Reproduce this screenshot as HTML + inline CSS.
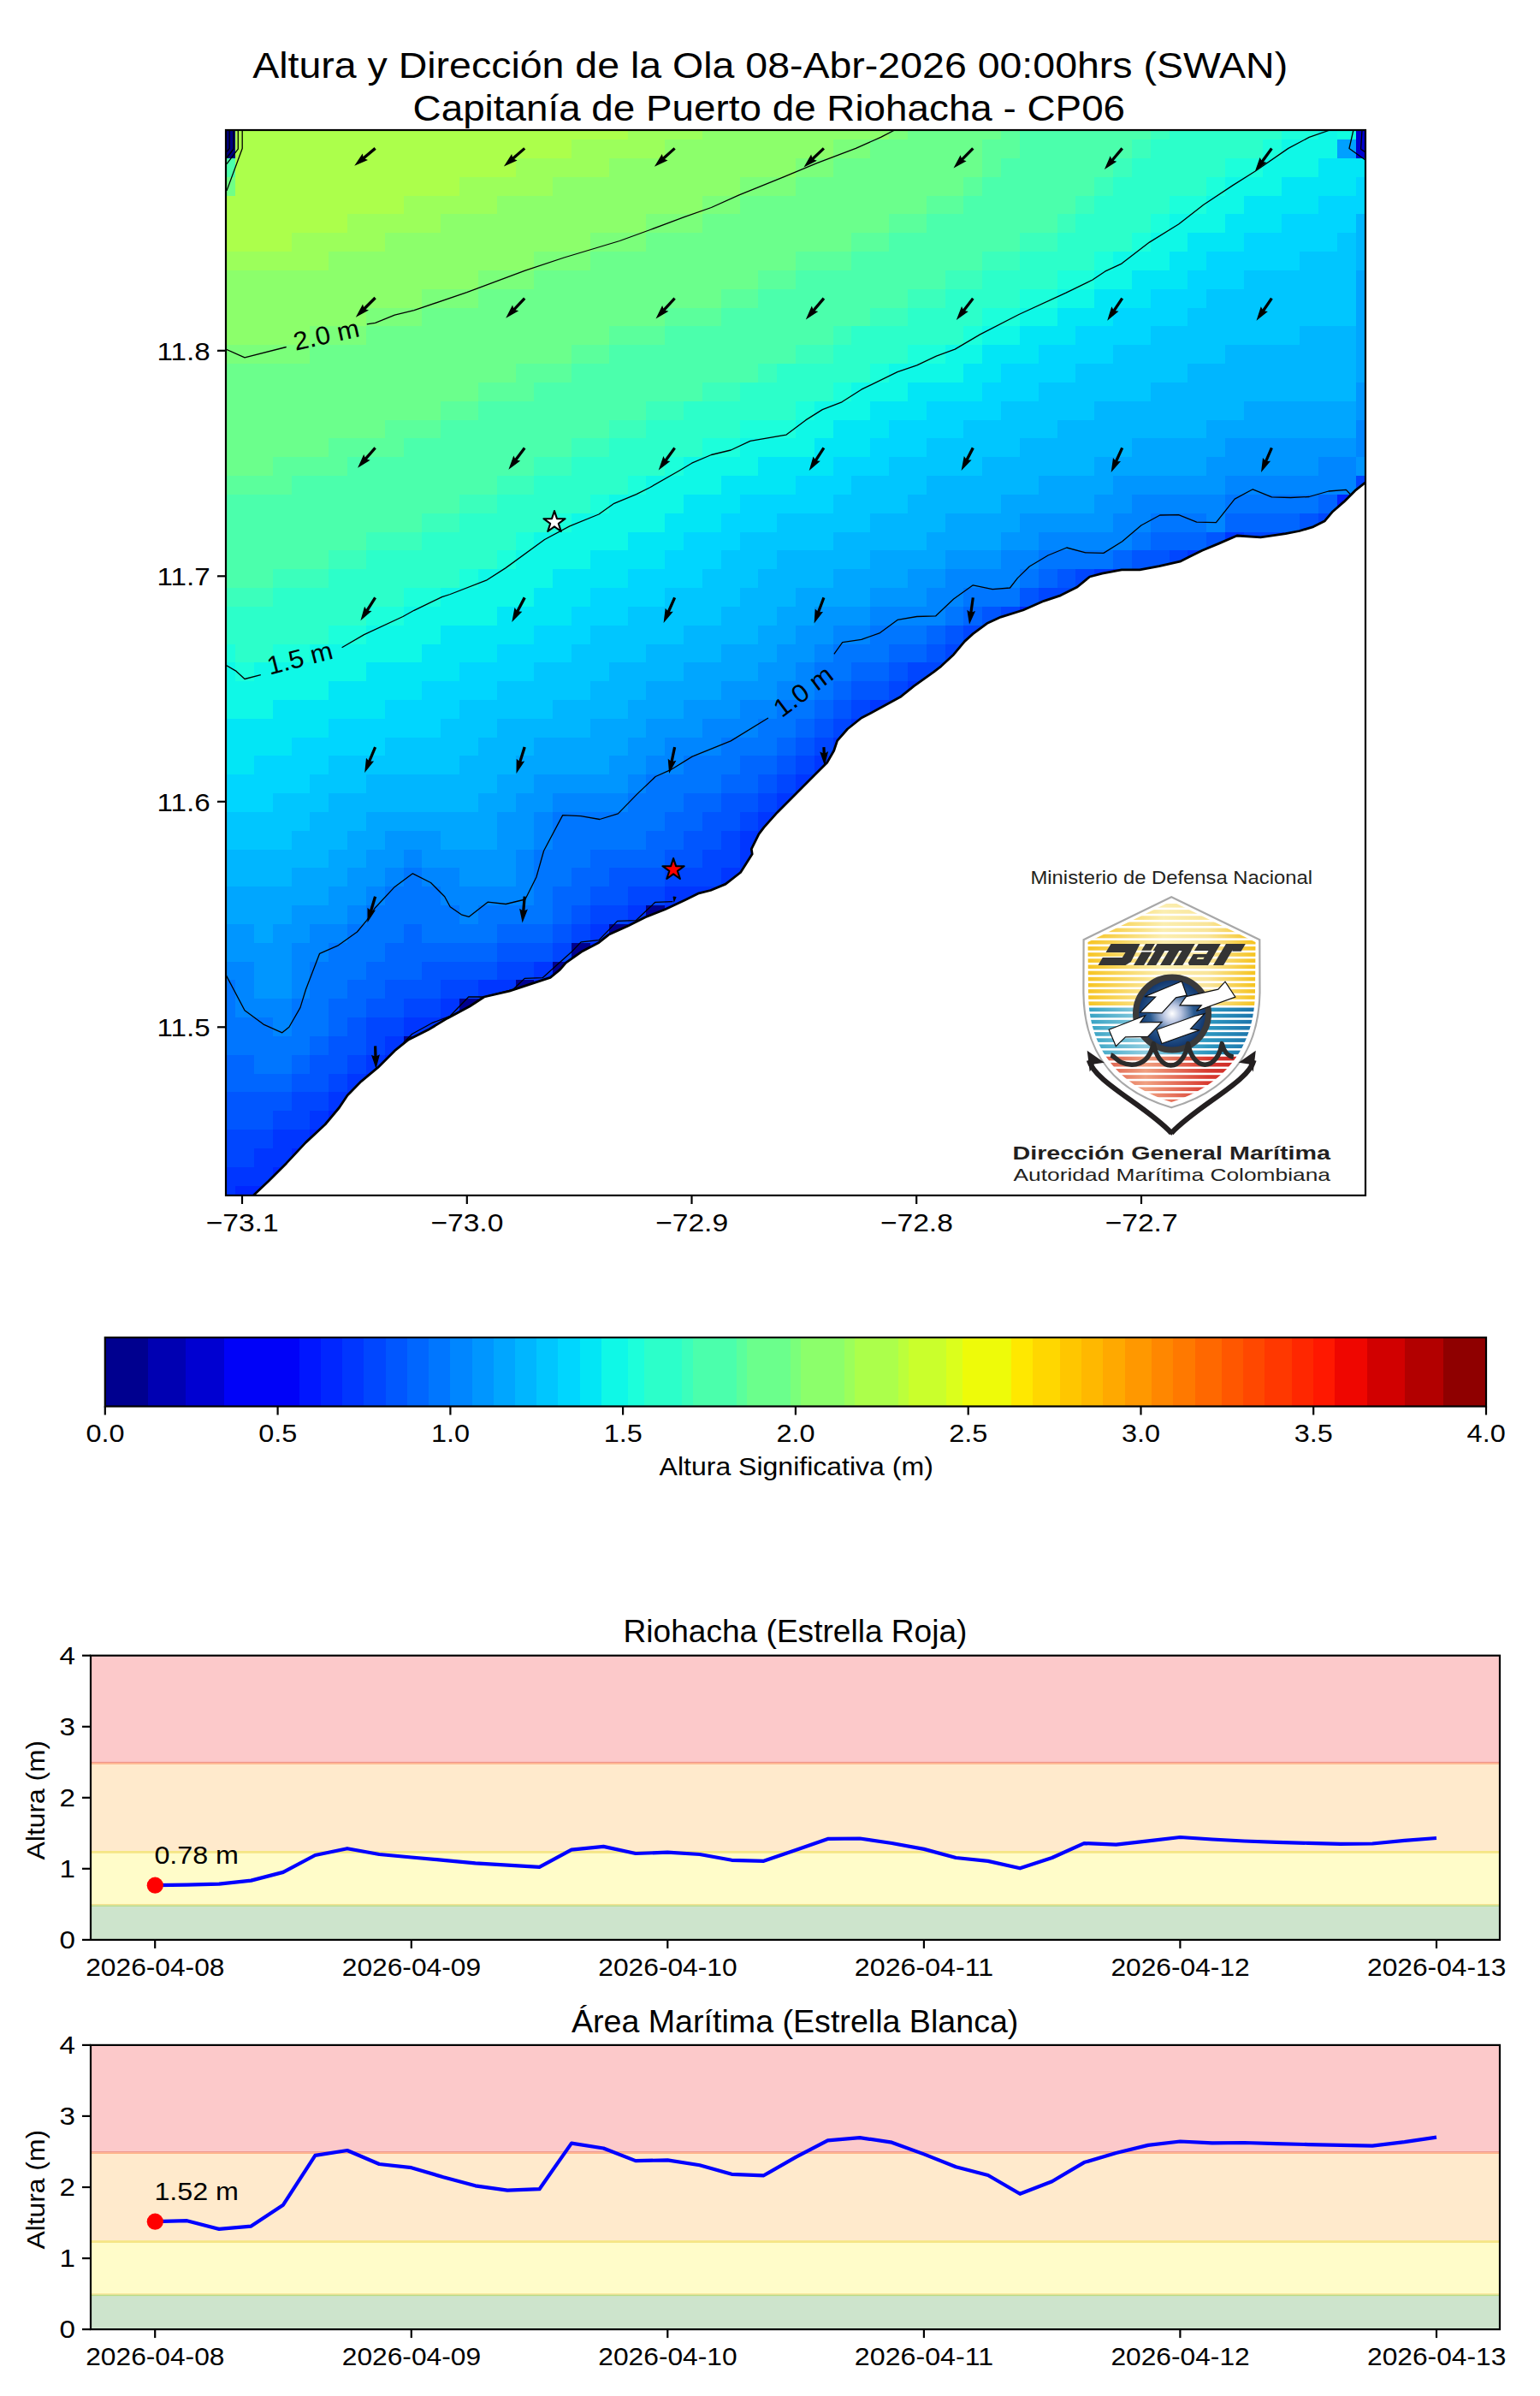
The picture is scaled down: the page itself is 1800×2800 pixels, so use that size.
<!DOCTYPE html><html><head><meta charset="utf-8"><style>html,body{margin:0;padding:0;background:#fff;}svg{display:block}</style></head><body>
<svg width="1800" height="2800" viewBox="0 0 1800 2800" style="font-family:'Liberation Sans',sans-serif">
<rect width="1800" height="2800" fill="#fff"/>
<text x="295.20" y="91.10" font-size="42.74" textLength="1210.00" lengthAdjust="spacingAndGlyphs" font-weight="normal" fill="#000" >Altura y Dirección de la Ola 08-Abr-2026 00:00hrs (SWAN)</text>
<text x="482.60" y="140.60" font-size="42.74" textLength="832.50" lengthAdjust="spacingAndGlyphs" font-weight="normal" fill="#000" >Capitanía de Puerto de Riohacha - CP06</text>
<defs><clipPath id="mapclip"><rect x="264" y="152" width="1332" height="1245"/></clipPath></defs>
<g clip-path="url(#mapclip)" shape-rendering="crispEdges">
<rect x="253.27" y="141.27" width="22.13" height="22.13" fill="#000080"/>
<rect x="275.10" y="141.27" width="458.73" height="22.13" fill="#acff4b"/>
<rect x="733.53" y="141.27" width="87.62" height="22.13" fill="#9cff5b"/>
<rect x="820.85" y="141.27" width="218.60" height="22.13" fill="#8cff6b"/>
<rect x="1039.15" y="141.27" width="22.13" height="22.13" fill="#7bff7b"/>
<rect x="1060.98" y="141.27" width="109.45" height="22.13" fill="#6bff8c"/>
<rect x="1170.13" y="141.27" width="22.13" height="22.13" fill="#5bff9c"/>
<rect x="1191.96" y="141.27" width="153.11" height="22.13" fill="#4bffac"/>
<rect x="1344.77" y="141.27" width="22.13" height="22.13" fill="#3bffbc"/>
<rect x="1366.60" y="141.27" width="131.28" height="22.13" fill="#2cffca"/>
<rect x="1497.58" y="141.27" width="43.96" height="22.13" fill="#1cffdb"/>
<rect x="1541.24" y="141.27" width="22.13" height="22.13" fill="#0ff8e7"/>
<rect x="1563.07" y="141.27" width="22.13" height="22.13" fill="#10ffe0"/>
<rect x="1584.90" y="141.27" width="22.13" height="22.13" fill="#0000d0"/>
<rect x="253.27" y="163.10" width="22.13" height="22.13" fill="#000080"/>
<rect x="275.10" y="163.10" width="393.24" height="22.13" fill="#acff4b"/>
<rect x="668.04" y="163.10" width="109.45" height="22.13" fill="#9cff5b"/>
<rect x="777.19" y="163.10" width="196.77" height="22.13" fill="#8cff6b"/>
<rect x="973.66" y="163.10" width="43.96" height="22.13" fill="#7bff7b"/>
<rect x="1017.32" y="163.10" width="131.28" height="22.13" fill="#6bff8c"/>
<rect x="1148.30" y="163.10" width="43.96" height="22.13" fill="#5bff9c"/>
<rect x="1191.96" y="163.10" width="131.28" height="22.13" fill="#4bffac"/>
<rect x="1322.94" y="163.10" width="22.13" height="22.13" fill="#3bffbc"/>
<rect x="1344.77" y="163.10" width="131.28" height="22.13" fill="#2cffca"/>
<rect x="1475.75" y="163.10" width="22.13" height="22.13" fill="#1cffdb"/>
<rect x="1497.58" y="163.10" width="65.79" height="22.13" fill="#0ff8e7"/>
<rect x="1563.07" y="163.10" width="22.13" height="22.13" fill="#00a0ff"/>
<rect x="1584.90" y="163.10" width="22.13" height="22.13" fill="#0000d0"/>
<rect x="253.27" y="184.93" width="22.13" height="22.13" fill="#4dffaa"/>
<rect x="275.10" y="184.93" width="327.75" height="22.13" fill="#acff4b"/>
<rect x="602.55" y="184.93" width="109.45" height="22.13" fill="#9cff5b"/>
<rect x="711.70" y="184.93" width="218.60" height="22.13" fill="#8cff6b"/>
<rect x="930.00" y="184.93" width="43.96" height="22.13" fill="#7bff7b"/>
<rect x="973.66" y="184.93" width="174.94" height="22.13" fill="#6bff8c"/>
<rect x="1148.30" y="184.93" width="22.13" height="22.13" fill="#5bff9c"/>
<rect x="1170.13" y="184.93" width="131.28" height="22.13" fill="#4bffac"/>
<rect x="1301.11" y="184.93" width="22.13" height="22.13" fill="#3bffbc"/>
<rect x="1322.94" y="184.93" width="109.45" height="22.13" fill="#2cffca"/>
<rect x="1432.09" y="184.93" width="43.96" height="22.13" fill="#1cffdb"/>
<rect x="1475.75" y="184.93" width="65.79" height="22.13" fill="#0ff8e7"/>
<rect x="1541.24" y="184.93" width="65.79" height="22.13" fill="#02e6f6"/>
<rect x="253.27" y="206.76" width="22.13" height="22.13" fill="#70ff86"/>
<rect x="275.10" y="206.76" width="262.26" height="22.13" fill="#acff4b"/>
<rect x="537.06" y="206.76" width="109.45" height="22.13" fill="#9cff5b"/>
<rect x="646.21" y="206.76" width="218.60" height="22.13" fill="#8cff6b"/>
<rect x="864.51" y="206.76" width="65.79" height="22.13" fill="#7bff7b"/>
<rect x="930.00" y="206.76" width="196.77" height="22.13" fill="#6bff8c"/>
<rect x="1126.47" y="206.76" width="22.13" height="22.13" fill="#5bff9c"/>
<rect x="1148.30" y="206.76" width="131.28" height="22.13" fill="#4bffac"/>
<rect x="1279.28" y="206.76" width="22.13" height="22.13" fill="#3bffbc"/>
<rect x="1301.11" y="206.76" width="109.45" height="22.13" fill="#2cffca"/>
<rect x="1410.26" y="206.76" width="22.13" height="22.13" fill="#1cffdb"/>
<rect x="1432.09" y="206.76" width="65.79" height="22.13" fill="#0ff8e7"/>
<rect x="1497.58" y="206.76" width="87.62" height="22.13" fill="#02e6f6"/>
<rect x="1584.90" y="206.76" width="22.13" height="22.13" fill="#00d6ff"/>
<rect x="253.27" y="228.59" width="218.60" height="22.13" fill="#acff4b"/>
<rect x="471.57" y="228.59" width="109.45" height="22.13" fill="#9cff5b"/>
<rect x="580.72" y="228.59" width="240.43" height="22.13" fill="#8cff6b"/>
<rect x="820.85" y="228.59" width="43.96" height="22.13" fill="#7bff7b"/>
<rect x="864.51" y="228.59" width="218.60" height="22.13" fill="#6bff8c"/>
<rect x="1082.81" y="228.59" width="43.96" height="22.13" fill="#5bff9c"/>
<rect x="1126.47" y="228.59" width="131.28" height="22.13" fill="#4bffac"/>
<rect x="1257.45" y="228.59" width="22.13" height="22.13" fill="#3bffbc"/>
<rect x="1279.28" y="228.59" width="87.62" height="22.13" fill="#2cffca"/>
<rect x="1366.60" y="228.59" width="43.96" height="22.13" fill="#1cffdb"/>
<rect x="1410.26" y="228.59" width="43.96" height="22.13" fill="#0ff8e7"/>
<rect x="1453.92" y="228.59" width="87.62" height="22.13" fill="#02e6f6"/>
<rect x="1541.24" y="228.59" width="65.79" height="22.13" fill="#00d6ff"/>
<rect x="253.27" y="250.42" width="153.11" height="22.13" fill="#acff4b"/>
<rect x="406.08" y="250.42" width="109.45" height="22.13" fill="#9cff5b"/>
<rect x="515.23" y="250.42" width="240.43" height="22.13" fill="#8cff6b"/>
<rect x="755.36" y="250.42" width="65.79" height="22.13" fill="#7bff7b"/>
<rect x="820.85" y="250.42" width="218.60" height="22.13" fill="#6bff8c"/>
<rect x="1039.15" y="250.42" width="43.96" height="22.13" fill="#5bff9c"/>
<rect x="1082.81" y="250.42" width="153.11" height="22.13" fill="#4bffac"/>
<rect x="1235.62" y="250.42" width="22.13" height="22.13" fill="#3bffbc"/>
<rect x="1257.45" y="250.42" width="87.62" height="22.13" fill="#2cffca"/>
<rect x="1344.77" y="250.42" width="22.13" height="22.13" fill="#1cffdb"/>
<rect x="1366.60" y="250.42" width="65.79" height="22.13" fill="#0ff8e7"/>
<rect x="1432.09" y="250.42" width="65.79" height="22.13" fill="#02e6f6"/>
<rect x="1497.58" y="250.42" width="87.62" height="22.13" fill="#00d6ff"/>
<rect x="1584.90" y="250.42" width="22.13" height="22.13" fill="#00b6ff"/>
<rect x="253.27" y="272.25" width="87.62" height="22.13" fill="#acff4b"/>
<rect x="340.59" y="272.25" width="109.45" height="22.13" fill="#9cff5b"/>
<rect x="449.74" y="272.25" width="240.43" height="22.13" fill="#8cff6b"/>
<rect x="689.87" y="272.25" width="65.79" height="22.13" fill="#7bff7b"/>
<rect x="755.36" y="272.25" width="240.43" height="22.13" fill="#6bff8c"/>
<rect x="995.49" y="272.25" width="43.96" height="22.13" fill="#5bff9c"/>
<rect x="1039.15" y="272.25" width="153.11" height="22.13" fill="#4bffac"/>
<rect x="1191.96" y="272.25" width="43.96" height="22.13" fill="#3bffbc"/>
<rect x="1235.62" y="272.25" width="87.62" height="22.13" fill="#2cffca"/>
<rect x="1322.94" y="272.25" width="22.13" height="22.13" fill="#1cffdb"/>
<rect x="1344.77" y="272.25" width="43.96" height="22.13" fill="#0ff8e7"/>
<rect x="1388.43" y="272.25" width="65.79" height="22.13" fill="#02e6f6"/>
<rect x="1453.92" y="272.25" width="109.45" height="22.13" fill="#00d6ff"/>
<rect x="1563.07" y="272.25" width="22.13" height="22.13" fill="#00c6ff"/>
<rect x="1584.90" y="272.25" width="22.13" height="22.13" fill="#00b6ff"/>
<rect x="253.27" y="294.08" width="131.28" height="22.13" fill="#9cff5b"/>
<rect x="384.25" y="294.08" width="240.43" height="22.13" fill="#8cff6b"/>
<rect x="624.38" y="294.08" width="65.79" height="22.13" fill="#7bff7b"/>
<rect x="689.87" y="294.08" width="240.43" height="22.13" fill="#6bff8c"/>
<rect x="930.00" y="294.08" width="65.79" height="22.13" fill="#5bff9c"/>
<rect x="995.49" y="294.08" width="153.11" height="22.13" fill="#4bffac"/>
<rect x="1148.30" y="294.08" width="43.96" height="22.13" fill="#3bffbc"/>
<rect x="1191.96" y="294.08" width="87.62" height="22.13" fill="#2cffca"/>
<rect x="1279.28" y="294.08" width="22.13" height="22.13" fill="#1cffdb"/>
<rect x="1301.11" y="294.08" width="65.79" height="22.13" fill="#0ff8e7"/>
<rect x="1366.60" y="294.08" width="43.96" height="22.13" fill="#02e6f6"/>
<rect x="1410.26" y="294.08" width="109.45" height="22.13" fill="#00d6ff"/>
<rect x="1519.41" y="294.08" width="65.79" height="22.13" fill="#00c6ff"/>
<rect x="1584.90" y="294.08" width="22.13" height="22.13" fill="#00b6ff"/>
<rect x="253.27" y="315.91" width="305.92" height="22.13" fill="#8cff6b"/>
<rect x="558.89" y="315.91" width="65.79" height="22.13" fill="#7bff7b"/>
<rect x="624.38" y="315.91" width="262.26" height="22.13" fill="#6bff8c"/>
<rect x="886.34" y="315.91" width="43.96" height="22.13" fill="#5bff9c"/>
<rect x="930.00" y="315.91" width="174.94" height="22.13" fill="#4bffac"/>
<rect x="1104.64" y="315.91" width="43.96" height="22.13" fill="#3bffbc"/>
<rect x="1148.30" y="315.91" width="87.62" height="22.13" fill="#2cffca"/>
<rect x="1235.62" y="315.91" width="43.96" height="22.13" fill="#1cffdb"/>
<rect x="1279.28" y="315.91" width="43.96" height="22.13" fill="#0ff8e7"/>
<rect x="1322.94" y="315.91" width="65.79" height="22.13" fill="#02e6f6"/>
<rect x="1388.43" y="315.91" width="65.79" height="22.13" fill="#00d6ff"/>
<rect x="1453.92" y="315.91" width="131.28" height="22.13" fill="#00c6ff"/>
<rect x="1584.90" y="315.91" width="22.13" height="22.13" fill="#00a6ff"/>
<rect x="253.27" y="337.74" width="240.43" height="22.13" fill="#8cff6b"/>
<rect x="493.40" y="337.74" width="65.79" height="22.13" fill="#7bff7b"/>
<rect x="558.89" y="337.74" width="284.09" height="22.13" fill="#6bff8c"/>
<rect x="842.68" y="337.74" width="43.96" height="22.13" fill="#5bff9c"/>
<rect x="886.34" y="337.74" width="174.94" height="22.13" fill="#4bffac"/>
<rect x="1060.98" y="337.74" width="43.96" height="22.13" fill="#3bffbc"/>
<rect x="1104.64" y="337.74" width="87.62" height="22.13" fill="#2cffca"/>
<rect x="1191.96" y="337.74" width="43.96" height="22.13" fill="#1cffdb"/>
<rect x="1235.62" y="337.74" width="43.96" height="22.13" fill="#0ff8e7"/>
<rect x="1279.28" y="337.74" width="65.79" height="22.13" fill="#02e6f6"/>
<rect x="1344.77" y="337.74" width="65.79" height="22.13" fill="#00d6ff"/>
<rect x="1410.26" y="337.74" width="174.94" height="22.13" fill="#00c6ff"/>
<rect x="1584.90" y="337.74" width="22.13" height="22.13" fill="#00a6ff"/>
<rect x="253.27" y="359.57" width="174.94" height="22.13" fill="#8cff6b"/>
<rect x="427.91" y="359.57" width="65.79" height="22.13" fill="#7bff7b"/>
<rect x="493.40" y="359.57" width="284.09" height="22.13" fill="#6bff8c"/>
<rect x="777.19" y="359.57" width="65.79" height="22.13" fill="#5bff9c"/>
<rect x="842.68" y="359.57" width="174.94" height="22.13" fill="#4bffac"/>
<rect x="1017.32" y="359.57" width="43.96" height="22.13" fill="#3bffbc"/>
<rect x="1060.98" y="359.57" width="87.62" height="22.13" fill="#2cffca"/>
<rect x="1148.30" y="359.57" width="43.96" height="22.13" fill="#1cffdb"/>
<rect x="1191.96" y="359.57" width="43.96" height="22.13" fill="#0ff8e7"/>
<rect x="1235.62" y="359.57" width="65.79" height="22.13" fill="#02e6f6"/>
<rect x="1301.11" y="359.57" width="87.62" height="22.13" fill="#00d6ff"/>
<rect x="1388.43" y="359.57" width="196.77" height="22.13" fill="#00c6ff"/>
<rect x="1584.90" y="359.57" width="22.13" height="22.13" fill="#00a6ff"/>
<rect x="253.27" y="381.40" width="109.45" height="22.13" fill="#8cff6b"/>
<rect x="362.42" y="381.40" width="65.79" height="22.13" fill="#7bff7b"/>
<rect x="427.91" y="381.40" width="284.09" height="22.13" fill="#6bff8c"/>
<rect x="711.70" y="381.40" width="65.79" height="22.13" fill="#5bff9c"/>
<rect x="777.19" y="381.40" width="196.77" height="22.13" fill="#4bffac"/>
<rect x="973.66" y="381.40" width="22.13" height="22.13" fill="#3bffbc"/>
<rect x="995.49" y="381.40" width="131.28" height="22.13" fill="#2cffca"/>
<rect x="1126.47" y="381.40" width="22.13" height="22.13" fill="#1cffdb"/>
<rect x="1148.30" y="381.40" width="43.96" height="22.13" fill="#0ff8e7"/>
<rect x="1191.96" y="381.40" width="65.79" height="22.13" fill="#02e6f6"/>
<rect x="1257.45" y="381.40" width="87.62" height="22.13" fill="#00d6ff"/>
<rect x="1344.77" y="381.40" width="174.94" height="22.13" fill="#00c6ff"/>
<rect x="1519.41" y="381.40" width="65.79" height="22.13" fill="#00b6ff"/>
<rect x="1584.90" y="381.40" width="22.13" height="22.13" fill="#00a6ff"/>
<rect x="253.27" y="403.23" width="109.45" height="22.13" fill="#7bff7b"/>
<rect x="362.42" y="403.23" width="305.92" height="22.13" fill="#6bff8c"/>
<rect x="668.04" y="403.23" width="43.96" height="22.13" fill="#5bff9c"/>
<rect x="711.70" y="403.23" width="218.60" height="22.13" fill="#4bffac"/>
<rect x="930.00" y="403.23" width="43.96" height="22.13" fill="#3bffbc"/>
<rect x="973.66" y="403.23" width="87.62" height="22.13" fill="#2cffca"/>
<rect x="1060.98" y="403.23" width="43.96" height="22.13" fill="#1cffdb"/>
<rect x="1104.64" y="403.23" width="43.96" height="22.13" fill="#0ff8e7"/>
<rect x="1148.30" y="403.23" width="65.79" height="22.13" fill="#02e6f6"/>
<rect x="1213.79" y="403.23" width="87.62" height="22.13" fill="#00d6ff"/>
<rect x="1301.11" y="403.23" width="131.28" height="22.13" fill="#00c6ff"/>
<rect x="1432.09" y="403.23" width="153.11" height="22.13" fill="#00b6ff"/>
<rect x="1584.90" y="403.23" width="22.13" height="22.13" fill="#00a6ff"/>
<rect x="253.27" y="425.06" width="349.58" height="22.13" fill="#6bff8c"/>
<rect x="602.55" y="425.06" width="65.79" height="22.13" fill="#5bff9c"/>
<rect x="668.04" y="425.06" width="218.60" height="22.13" fill="#4bffac"/>
<rect x="886.34" y="425.06" width="22.13" height="22.13" fill="#3bffbc"/>
<rect x="908.17" y="425.06" width="109.45" height="22.13" fill="#2cffca"/>
<rect x="1017.32" y="425.06" width="22.13" height="22.13" fill="#1cffdb"/>
<rect x="1039.15" y="425.06" width="87.62" height="22.13" fill="#0ff8e7"/>
<rect x="1126.47" y="425.06" width="43.96" height="22.13" fill="#02e6f6"/>
<rect x="1170.13" y="425.06" width="87.62" height="22.13" fill="#00d6ff"/>
<rect x="1257.45" y="425.06" width="131.28" height="22.13" fill="#00c6ff"/>
<rect x="1388.43" y="425.06" width="196.77" height="22.13" fill="#00b6ff"/>
<rect x="1584.90" y="425.06" width="22.13" height="22.13" fill="#00a6ff"/>
<rect x="253.27" y="446.89" width="305.92" height="22.13" fill="#6bff8c"/>
<rect x="558.89" y="446.89" width="65.79" height="22.13" fill="#5bff9c"/>
<rect x="624.38" y="446.89" width="196.77" height="22.13" fill="#4bffac"/>
<rect x="820.85" y="446.89" width="43.96" height="22.13" fill="#3bffbc"/>
<rect x="864.51" y="446.89" width="109.45" height="22.13" fill="#2cffca"/>
<rect x="973.66" y="446.89" width="22.13" height="22.13" fill="#1cffdb"/>
<rect x="995.49" y="446.89" width="65.79" height="22.13" fill="#0ff8e7"/>
<rect x="1060.98" y="446.89" width="87.62" height="22.13" fill="#02e6f6"/>
<rect x="1148.30" y="446.89" width="65.79" height="22.13" fill="#00d6ff"/>
<rect x="1213.79" y="446.89" width="131.28" height="22.13" fill="#00c6ff"/>
<rect x="1344.77" y="446.89" width="240.43" height="22.13" fill="#00b6ff"/>
<rect x="1584.90" y="446.89" width="22.13" height="22.13" fill="#0096ff"/>
<rect x="253.27" y="468.72" width="262.26" height="22.13" fill="#6bff8c"/>
<rect x="515.23" y="468.72" width="43.96" height="22.13" fill="#5bff9c"/>
<rect x="558.89" y="468.72" width="196.77" height="22.13" fill="#4bffac"/>
<rect x="755.36" y="468.72" width="43.96" height="22.13" fill="#3bffbc"/>
<rect x="799.02" y="468.72" width="131.28" height="22.13" fill="#2cffca"/>
<rect x="930.00" y="468.72" width="22.13" height="22.13" fill="#1cffdb"/>
<rect x="951.83" y="468.72" width="65.79" height="22.13" fill="#0ff8e7"/>
<rect x="1017.32" y="468.72" width="65.79" height="22.13" fill="#02e6f6"/>
<rect x="1082.81" y="468.72" width="87.62" height="22.13" fill="#00d6ff"/>
<rect x="1170.13" y="468.72" width="109.45" height="22.13" fill="#00c6ff"/>
<rect x="1279.28" y="468.72" width="174.94" height="22.13" fill="#00b6ff"/>
<rect x="1453.92" y="468.72" width="131.28" height="22.13" fill="#00a6ff"/>
<rect x="1584.90" y="468.72" width="22.13" height="22.13" fill="#0096ff"/>
<rect x="253.27" y="490.55" width="196.77" height="22.13" fill="#6bff8c"/>
<rect x="449.74" y="490.55" width="65.79" height="22.13" fill="#5bff9c"/>
<rect x="515.23" y="490.55" width="196.77" height="22.13" fill="#4bffac"/>
<rect x="711.70" y="490.55" width="43.96" height="22.13" fill="#3bffbc"/>
<rect x="755.36" y="490.55" width="109.45" height="22.13" fill="#2cffca"/>
<rect x="864.51" y="490.55" width="65.79" height="22.13" fill="#1cffdb"/>
<rect x="930.00" y="490.55" width="43.96" height="22.13" fill="#0ff8e7"/>
<rect x="973.66" y="490.55" width="65.79" height="22.13" fill="#02e6f6"/>
<rect x="1039.15" y="490.55" width="87.62" height="22.13" fill="#00d6ff"/>
<rect x="1126.47" y="490.55" width="109.45" height="22.13" fill="#00c6ff"/>
<rect x="1235.62" y="490.55" width="174.94" height="22.13" fill="#00b6ff"/>
<rect x="1410.26" y="490.55" width="174.94" height="22.13" fill="#00a6ff"/>
<rect x="1584.90" y="490.55" width="22.13" height="22.13" fill="#0086ff"/>
<rect x="253.27" y="512.38" width="131.28" height="22.13" fill="#6bff8c"/>
<rect x="384.25" y="512.38" width="87.62" height="22.13" fill="#5bff9c"/>
<rect x="471.57" y="512.38" width="196.77" height="22.13" fill="#4bffac"/>
<rect x="668.04" y="512.38" width="43.96" height="22.13" fill="#3bffbc"/>
<rect x="711.70" y="512.38" width="109.45" height="22.13" fill="#2cffca"/>
<rect x="820.85" y="512.38" width="43.96" height="22.13" fill="#1cffdb"/>
<rect x="864.51" y="512.38" width="87.62" height="22.13" fill="#0ff8e7"/>
<rect x="951.83" y="512.38" width="65.79" height="22.13" fill="#02e6f6"/>
<rect x="1017.32" y="512.38" width="65.79" height="22.13" fill="#00d6ff"/>
<rect x="1082.81" y="512.38" width="109.45" height="22.13" fill="#00c6ff"/>
<rect x="1191.96" y="512.38" width="131.28" height="22.13" fill="#00b6ff"/>
<rect x="1322.94" y="512.38" width="109.45" height="22.13" fill="#00a6ff"/>
<rect x="1432.09" y="512.38" width="153.11" height="22.13" fill="#0096ff"/>
<rect x="1584.90" y="512.38" width="22.13" height="22.13" fill="#0086ff"/>
<rect x="253.27" y="534.21" width="65.79" height="22.13" fill="#6bff8c"/>
<rect x="318.76" y="534.21" width="87.62" height="22.13" fill="#5bff9c"/>
<rect x="406.08" y="534.21" width="218.60" height="22.13" fill="#4bffac"/>
<rect x="624.38" y="534.21" width="43.96" height="22.13" fill="#3bffbc"/>
<rect x="668.04" y="534.21" width="109.45" height="22.13" fill="#2cffca"/>
<rect x="777.19" y="534.21" width="22.13" height="22.13" fill="#1cffdb"/>
<rect x="799.02" y="534.21" width="87.62" height="22.13" fill="#0ff8e7"/>
<rect x="886.34" y="534.21" width="87.62" height="22.13" fill="#02e6f6"/>
<rect x="973.66" y="534.21" width="65.79" height="22.13" fill="#00d6ff"/>
<rect x="1039.15" y="534.21" width="109.45" height="22.13" fill="#00c6ff"/>
<rect x="1148.30" y="534.21" width="131.28" height="22.13" fill="#00b6ff"/>
<rect x="1279.28" y="534.21" width="131.28" height="22.13" fill="#00a6ff"/>
<rect x="1410.26" y="534.21" width="131.28" height="22.13" fill="#0096ff"/>
<rect x="1541.24" y="534.21" width="43.96" height="22.13" fill="#0086ff"/>
<rect x="1584.90" y="534.21" width="22.13" height="22.13" fill="#0096ff"/>
<rect x="253.27" y="556.04" width="87.62" height="22.13" fill="#5bff9c"/>
<rect x="340.59" y="556.04" width="240.43" height="22.13" fill="#4bffac"/>
<rect x="580.72" y="556.04" width="43.96" height="22.13" fill="#3bffbc"/>
<rect x="624.38" y="556.04" width="109.45" height="22.13" fill="#2cffca"/>
<rect x="733.53" y="556.04" width="22.13" height="22.13" fill="#1cffdb"/>
<rect x="755.36" y="556.04" width="87.62" height="22.13" fill="#0ff8e7"/>
<rect x="842.68" y="556.04" width="87.62" height="22.13" fill="#02e6f6"/>
<rect x="930.00" y="556.04" width="65.79" height="22.13" fill="#00d6ff"/>
<rect x="995.49" y="556.04" width="87.62" height="22.13" fill="#00c6ff"/>
<rect x="1082.81" y="556.04" width="131.28" height="22.13" fill="#00b6ff"/>
<rect x="1213.79" y="556.04" width="87.62" height="22.13" fill="#00a6ff"/>
<rect x="1301.11" y="556.04" width="131.28" height="22.13" fill="#0096ff"/>
<rect x="1432.09" y="556.04" width="153.11" height="22.13" fill="#0086ff"/>
<rect x="1584.90" y="556.04" width="22.13" height="22.13" fill="#0046ff"/>
<rect x="253.27" y="577.87" width="284.09" height="22.13" fill="#4bffac"/>
<rect x="537.06" y="577.87" width="43.96" height="22.13" fill="#3bffbc"/>
<rect x="580.72" y="577.87" width="109.45" height="22.13" fill="#2cffca"/>
<rect x="689.87" y="577.87" width="22.13" height="22.13" fill="#1cffdb"/>
<rect x="711.70" y="577.87" width="87.62" height="22.13" fill="#0ff8e7"/>
<rect x="799.02" y="577.87" width="65.79" height="22.13" fill="#02e6f6"/>
<rect x="864.51" y="577.87" width="109.45" height="22.13" fill="#00d6ff"/>
<rect x="973.66" y="577.87" width="87.62" height="22.13" fill="#00c6ff"/>
<rect x="1060.98" y="577.87" width="109.45" height="22.13" fill="#00b6ff"/>
<rect x="1170.13" y="577.87" width="109.45" height="22.13" fill="#00a6ff"/>
<rect x="1279.28" y="577.87" width="43.96" height="22.13" fill="#0096ff"/>
<rect x="1322.94" y="577.87" width="109.45" height="22.13" fill="#0086ff"/>
<rect x="1432.09" y="577.87" width="109.45" height="22.13" fill="#0076ff"/>
<rect x="1541.24" y="577.87" width="22.13" height="22.13" fill="#0066ff"/>
<rect x="1563.07" y="577.87" width="43.96" height="22.13" fill="#0026ff"/>
<rect x="253.27" y="599.70" width="240.43" height="22.13" fill="#4bffac"/>
<rect x="493.40" y="599.70" width="43.96" height="22.13" fill="#3bffbc"/>
<rect x="537.06" y="599.70" width="109.45" height="22.13" fill="#2cffca"/>
<rect x="646.21" y="599.70" width="22.13" height="22.13" fill="#1cffdb"/>
<rect x="668.04" y="599.70" width="109.45" height="22.13" fill="#0ff8e7"/>
<rect x="777.19" y="599.70" width="65.79" height="22.13" fill="#02e6f6"/>
<rect x="842.68" y="599.70" width="65.79" height="22.13" fill="#00d6ff"/>
<rect x="908.17" y="599.70" width="109.45" height="22.13" fill="#00c6ff"/>
<rect x="1017.32" y="599.70" width="87.62" height="22.13" fill="#00b6ff"/>
<rect x="1104.64" y="599.70" width="87.62" height="22.13" fill="#00a6ff"/>
<rect x="1191.96" y="599.70" width="109.45" height="22.13" fill="#0096ff"/>
<rect x="1301.11" y="599.70" width="43.96" height="22.13" fill="#0086ff"/>
<rect x="1344.77" y="599.70" width="65.79" height="22.13" fill="#0076ff"/>
<rect x="1410.26" y="599.70" width="22.13" height="22.13" fill="#0086ff"/>
<rect x="1432.09" y="599.70" width="87.62" height="22.13" fill="#0066ff"/>
<rect x="1519.41" y="599.70" width="22.13" height="22.13" fill="#0056ff"/>
<rect x="1541.24" y="599.70" width="22.13" height="22.13" fill="#0046ff"/>
<rect x="1563.07" y="599.70" width="43.96" height="22.13" fill="#0026ff"/>
<rect x="253.27" y="621.53" width="174.94" height="22.13" fill="#4bffac"/>
<rect x="427.91" y="621.53" width="65.79" height="22.13" fill="#3bffbc"/>
<rect x="493.40" y="621.53" width="109.45" height="22.13" fill="#2cffca"/>
<rect x="602.55" y="621.53" width="22.13" height="22.13" fill="#1cffdb"/>
<rect x="624.38" y="621.53" width="109.45" height="22.13" fill="#0ff8e7"/>
<rect x="733.53" y="621.53" width="65.79" height="22.13" fill="#02e6f6"/>
<rect x="799.02" y="621.53" width="65.79" height="22.13" fill="#00d6ff"/>
<rect x="864.51" y="621.53" width="109.45" height="22.13" fill="#00c6ff"/>
<rect x="973.66" y="621.53" width="109.45" height="22.13" fill="#00b6ff"/>
<rect x="1082.81" y="621.53" width="87.62" height="22.13" fill="#00a6ff"/>
<rect x="1170.13" y="621.53" width="43.96" height="22.13" fill="#0096ff"/>
<rect x="1213.79" y="621.53" width="109.45" height="22.13" fill="#0086ff"/>
<rect x="1322.94" y="621.53" width="22.13" height="22.13" fill="#0076ff"/>
<rect x="1344.77" y="621.53" width="65.79" height="22.13" fill="#0066ff"/>
<rect x="1410.26" y="621.53" width="22.13" height="22.13" fill="#0056ff"/>
<rect x="1432.09" y="621.53" width="22.13" height="22.13" fill="#0036ff"/>
<rect x="1453.92" y="621.53" width="43.96" height="22.13" fill="#0046ff"/>
<rect x="1497.58" y="621.53" width="22.13" height="22.13" fill="#0036ff"/>
<rect x="1519.41" y="621.53" width="87.62" height="22.13" fill="#0026ff"/>
<rect x="253.27" y="643.36" width="131.28" height="22.13" fill="#4bffac"/>
<rect x="384.25" y="643.36" width="43.96" height="22.13" fill="#3bffbc"/>
<rect x="427.91" y="643.36" width="153.11" height="22.13" fill="#2cffca"/>
<rect x="580.72" y="643.36" width="22.13" height="22.13" fill="#1cffdb"/>
<rect x="602.55" y="643.36" width="87.62" height="22.13" fill="#0ff8e7"/>
<rect x="689.87" y="643.36" width="87.62" height="22.13" fill="#02e6f6"/>
<rect x="777.19" y="643.36" width="65.79" height="22.13" fill="#00d6ff"/>
<rect x="842.68" y="643.36" width="65.79" height="22.13" fill="#00c6ff"/>
<rect x="908.17" y="643.36" width="109.45" height="22.13" fill="#00b6ff"/>
<rect x="1017.32" y="643.36" width="87.62" height="22.13" fill="#00a6ff"/>
<rect x="1104.64" y="643.36" width="65.79" height="22.13" fill="#0096ff"/>
<rect x="1170.13" y="643.36" width="43.96" height="22.13" fill="#0086ff"/>
<rect x="1213.79" y="643.36" width="87.62" height="22.13" fill="#0076ff"/>
<rect x="1301.11" y="643.36" width="22.13" height="22.13" fill="#0066ff"/>
<rect x="1322.94" y="643.36" width="43.96" height="22.13" fill="#0056ff"/>
<rect x="1366.60" y="643.36" width="22.13" height="22.13" fill="#0046ff"/>
<rect x="1388.43" y="643.36" width="22.13" height="22.13" fill="#0036ff"/>
<rect x="1410.26" y="643.36" width="196.77" height="22.13" fill="#0026ff"/>
<rect x="253.27" y="665.19" width="65.79" height="22.13" fill="#4bffac"/>
<rect x="318.76" y="665.19" width="65.79" height="22.13" fill="#3bffbc"/>
<rect x="384.25" y="665.19" width="153.11" height="22.13" fill="#2cffca"/>
<rect x="537.06" y="665.19" width="22.13" height="22.13" fill="#1cffdb"/>
<rect x="558.89" y="665.19" width="87.62" height="22.13" fill="#0ff8e7"/>
<rect x="646.21" y="665.19" width="87.62" height="22.13" fill="#02e6f6"/>
<rect x="733.53" y="665.19" width="87.62" height="22.13" fill="#00d6ff"/>
<rect x="820.85" y="665.19" width="65.79" height="22.13" fill="#00c6ff"/>
<rect x="886.34" y="665.19" width="87.62" height="22.13" fill="#00b6ff"/>
<rect x="973.66" y="665.19" width="87.62" height="22.13" fill="#00a6ff"/>
<rect x="1060.98" y="665.19" width="43.96" height="22.13" fill="#0096ff"/>
<rect x="1104.64" y="665.19" width="87.62" height="22.13" fill="#0086ff"/>
<rect x="1191.96" y="665.19" width="22.13" height="22.13" fill="#0076ff"/>
<rect x="1213.79" y="665.19" width="22.13" height="22.13" fill="#0066ff"/>
<rect x="1235.62" y="665.19" width="22.13" height="22.13" fill="#0056ff"/>
<rect x="1257.45" y="665.19" width="22.13" height="22.13" fill="#0046ff"/>
<rect x="1279.28" y="665.19" width="22.13" height="22.13" fill="#0036ff"/>
<rect x="1301.11" y="665.19" width="22.13" height="22.13" fill="#0026ff"/>
<rect x="1322.94" y="665.19" width="43.96" height="22.13" fill="#0036ff"/>
<rect x="1366.60" y="665.19" width="240.43" height="22.13" fill="#0026ff"/>
<rect x="253.27" y="687.02" width="65.79" height="22.13" fill="#3bffbc"/>
<rect x="318.76" y="687.02" width="153.11" height="22.13" fill="#2cffca"/>
<rect x="471.57" y="687.02" width="43.96" height="22.13" fill="#1cffdb"/>
<rect x="515.23" y="687.02" width="109.45" height="22.13" fill="#0ff8e7"/>
<rect x="624.38" y="687.02" width="65.79" height="22.13" fill="#02e6f6"/>
<rect x="689.87" y="687.02" width="87.62" height="22.13" fill="#00d6ff"/>
<rect x="777.19" y="687.02" width="87.62" height="22.13" fill="#00c6ff"/>
<rect x="864.51" y="687.02" width="65.79" height="22.13" fill="#00b6ff"/>
<rect x="930.00" y="687.02" width="87.62" height="22.13" fill="#00a6ff"/>
<rect x="1017.32" y="687.02" width="65.79" height="22.13" fill="#0096ff"/>
<rect x="1082.81" y="687.02" width="43.96" height="22.13" fill="#0086ff"/>
<rect x="1126.47" y="687.02" width="65.79" height="22.13" fill="#0076ff"/>
<rect x="1191.96" y="687.02" width="22.13" height="22.13" fill="#0056ff"/>
<rect x="1213.79" y="687.02" width="43.96" height="22.13" fill="#0046ff"/>
<rect x="1257.45" y="687.02" width="349.58" height="22.13" fill="#0026ff"/>
<rect x="253.27" y="708.85" width="174.94" height="22.13" fill="#2cffca"/>
<rect x="427.91" y="708.85" width="43.96" height="22.13" fill="#1cffdb"/>
<rect x="471.57" y="708.85" width="109.45" height="22.13" fill="#0ff8e7"/>
<rect x="580.72" y="708.85" width="87.62" height="22.13" fill="#02e6f6"/>
<rect x="668.04" y="708.85" width="65.79" height="22.13" fill="#00d6ff"/>
<rect x="733.53" y="708.85" width="109.45" height="22.13" fill="#00c6ff"/>
<rect x="842.68" y="708.85" width="65.79" height="22.13" fill="#00b6ff"/>
<rect x="908.17" y="708.85" width="43.96" height="22.13" fill="#00a6ff"/>
<rect x="951.83" y="708.85" width="65.79" height="22.13" fill="#0096ff"/>
<rect x="1017.32" y="708.85" width="87.62" height="22.13" fill="#0086ff"/>
<rect x="1104.64" y="708.85" width="22.13" height="22.13" fill="#0076ff"/>
<rect x="1126.47" y="708.85" width="22.13" height="22.13" fill="#0066ff"/>
<rect x="1148.30" y="708.85" width="22.13" height="22.13" fill="#0056ff"/>
<rect x="1170.13" y="708.85" width="22.13" height="22.13" fill="#0046ff"/>
<rect x="1191.96" y="708.85" width="415.07" height="22.13" fill="#0026ff"/>
<rect x="253.27" y="730.68" width="131.28" height="22.13" fill="#2cffca"/>
<rect x="384.25" y="730.68" width="43.96" height="22.13" fill="#1cffdb"/>
<rect x="427.91" y="730.68" width="87.62" height="22.13" fill="#0ff8e7"/>
<rect x="515.23" y="730.68" width="109.45" height="22.13" fill="#02e6f6"/>
<rect x="624.38" y="730.68" width="65.79" height="22.13" fill="#00d6ff"/>
<rect x="689.87" y="730.68" width="109.45" height="22.13" fill="#00c6ff"/>
<rect x="799.02" y="730.68" width="87.62" height="22.13" fill="#00b6ff"/>
<rect x="886.34" y="730.68" width="43.96" height="22.13" fill="#00a6ff"/>
<rect x="930.00" y="730.68" width="43.96" height="22.13" fill="#0096ff"/>
<rect x="973.66" y="730.68" width="43.96" height="22.13" fill="#0086ff"/>
<rect x="1017.32" y="730.68" width="65.79" height="22.13" fill="#0076ff"/>
<rect x="1082.81" y="730.68" width="22.13" height="22.13" fill="#0066ff"/>
<rect x="1104.64" y="730.68" width="22.13" height="22.13" fill="#0056ff"/>
<rect x="1126.47" y="730.68" width="22.13" height="22.13" fill="#0046ff"/>
<rect x="1148.30" y="730.68" width="22.13" height="22.13" fill="#0026ff"/>
<rect x="1170.13" y="730.68" width="65.79" height="22.13" fill="#0016ff"/>
<rect x="1235.62" y="730.68" width="371.41" height="22.13" fill="#0026ff"/>
<rect x="253.27" y="752.51" width="22.13" height="22.13" fill="#1cffdb"/>
<rect x="275.10" y="752.51" width="43.96" height="22.13" fill="#2cffca"/>
<rect x="318.76" y="752.51" width="43.96" height="22.13" fill="#1cffdb"/>
<rect x="362.42" y="752.51" width="131.28" height="22.13" fill="#0ff8e7"/>
<rect x="493.40" y="752.51" width="87.62" height="22.13" fill="#02e6f6"/>
<rect x="580.72" y="752.51" width="87.62" height="22.13" fill="#00d6ff"/>
<rect x="668.04" y="752.51" width="87.62" height="22.13" fill="#00c6ff"/>
<rect x="755.36" y="752.51" width="87.62" height="22.13" fill="#00b6ff"/>
<rect x="842.68" y="752.51" width="65.79" height="22.13" fill="#00a6ff"/>
<rect x="908.17" y="752.51" width="43.96" height="22.13" fill="#0096ff"/>
<rect x="951.83" y="752.51" width="22.13" height="22.13" fill="#0086ff"/>
<rect x="973.66" y="752.51" width="65.79" height="22.13" fill="#0076ff"/>
<rect x="1039.15" y="752.51" width="43.96" height="22.13" fill="#0066ff"/>
<rect x="1082.81" y="752.51" width="22.13" height="22.13" fill="#0056ff"/>
<rect x="1104.64" y="752.51" width="22.13" height="22.13" fill="#0046ff"/>
<rect x="1126.47" y="752.51" width="22.13" height="22.13" fill="#0026ff"/>
<rect x="1148.30" y="752.51" width="87.62" height="22.13" fill="#0016ff"/>
<rect x="1235.62" y="752.51" width="371.41" height="22.13" fill="#0026ff"/>
<rect x="253.27" y="774.34" width="22.13" height="22.13" fill="#0ff8e7"/>
<rect x="275.10" y="774.34" width="22.13" height="22.13" fill="#1cffdb"/>
<rect x="296.93" y="774.34" width="131.28" height="22.13" fill="#0ff8e7"/>
<rect x="427.91" y="774.34" width="109.45" height="22.13" fill="#02e6f6"/>
<rect x="537.06" y="774.34" width="87.62" height="22.13" fill="#00d6ff"/>
<rect x="624.38" y="774.34" width="87.62" height="22.13" fill="#00c6ff"/>
<rect x="711.70" y="774.34" width="87.62" height="22.13" fill="#00b6ff"/>
<rect x="799.02" y="774.34" width="87.62" height="22.13" fill="#00a6ff"/>
<rect x="886.34" y="774.34" width="43.96" height="22.13" fill="#0096ff"/>
<rect x="930.00" y="774.34" width="22.13" height="22.13" fill="#0086ff"/>
<rect x="951.83" y="774.34" width="43.96" height="22.13" fill="#0076ff"/>
<rect x="995.49" y="774.34" width="43.96" height="22.13" fill="#0066ff"/>
<rect x="1039.15" y="774.34" width="22.13" height="22.13" fill="#0056ff"/>
<rect x="1060.98" y="774.34" width="43.96" height="22.13" fill="#0046ff"/>
<rect x="1104.64" y="774.34" width="22.13" height="22.13" fill="#0026ff"/>
<rect x="1126.47" y="774.34" width="109.45" height="22.13" fill="#0016ff"/>
<rect x="1235.62" y="774.34" width="371.41" height="22.13" fill="#0026ff"/>
<rect x="253.27" y="796.17" width="131.28" height="22.13" fill="#0ff8e7"/>
<rect x="384.25" y="796.17" width="109.45" height="22.13" fill="#02e6f6"/>
<rect x="493.40" y="796.17" width="87.62" height="22.13" fill="#00d6ff"/>
<rect x="580.72" y="796.17" width="109.45" height="22.13" fill="#00c6ff"/>
<rect x="689.87" y="796.17" width="65.79" height="22.13" fill="#00b6ff"/>
<rect x="755.36" y="796.17" width="87.62" height="22.13" fill="#00a6ff"/>
<rect x="842.68" y="796.17" width="65.79" height="22.13" fill="#0096ff"/>
<rect x="908.17" y="796.17" width="43.96" height="22.13" fill="#0086ff"/>
<rect x="951.83" y="796.17" width="22.13" height="22.13" fill="#0076ff"/>
<rect x="973.66" y="796.17" width="22.13" height="22.13" fill="#0066ff"/>
<rect x="995.49" y="796.17" width="43.96" height="22.13" fill="#0056ff"/>
<rect x="1039.15" y="796.17" width="22.13" height="22.13" fill="#0046ff"/>
<rect x="1060.98" y="796.17" width="22.13" height="22.13" fill="#0036ff"/>
<rect x="1082.81" y="796.17" width="22.13" height="22.13" fill="#0026ff"/>
<rect x="1104.64" y="796.17" width="131.28" height="22.13" fill="#0016ff"/>
<rect x="1235.62" y="796.17" width="371.41" height="22.13" fill="#0026ff"/>
<rect x="253.27" y="818.00" width="65.79" height="22.13" fill="#0ff8e7"/>
<rect x="318.76" y="818.00" width="131.28" height="22.13" fill="#02e6f6"/>
<rect x="449.74" y="818.00" width="87.62" height="22.13" fill="#00d6ff"/>
<rect x="537.06" y="818.00" width="109.45" height="22.13" fill="#00c6ff"/>
<rect x="646.21" y="818.00" width="87.62" height="22.13" fill="#00b6ff"/>
<rect x="733.53" y="818.00" width="65.79" height="22.13" fill="#00a6ff"/>
<rect x="799.02" y="818.00" width="65.79" height="22.13" fill="#0096ff"/>
<rect x="864.51" y="818.00" width="43.96" height="22.13" fill="#0086ff"/>
<rect x="908.17" y="818.00" width="43.96" height="22.13" fill="#0076ff"/>
<rect x="951.83" y="818.00" width="22.13" height="22.13" fill="#0066ff"/>
<rect x="973.66" y="818.00" width="22.13" height="22.13" fill="#0056ff"/>
<rect x="995.49" y="818.00" width="22.13" height="22.13" fill="#0046ff"/>
<rect x="1017.32" y="818.00" width="43.96" height="22.13" fill="#0036ff"/>
<rect x="1060.98" y="818.00" width="22.13" height="22.13" fill="#0026ff"/>
<rect x="1082.81" y="818.00" width="153.11" height="22.13" fill="#0016ff"/>
<rect x="1235.62" y="818.00" width="371.41" height="22.13" fill="#0026ff"/>
<rect x="253.27" y="839.83" width="131.28" height="22.13" fill="#02e6f6"/>
<rect x="384.25" y="839.83" width="131.28" height="22.13" fill="#00d6ff"/>
<rect x="515.23" y="839.83" width="65.79" height="22.13" fill="#00c6ff"/>
<rect x="580.72" y="839.83" width="109.45" height="22.13" fill="#00b6ff"/>
<rect x="689.87" y="839.83" width="65.79" height="22.13" fill="#00a6ff"/>
<rect x="755.36" y="839.83" width="65.79" height="22.13" fill="#0096ff"/>
<rect x="820.85" y="839.83" width="65.79" height="22.13" fill="#0086ff"/>
<rect x="886.34" y="839.83" width="43.96" height="22.13" fill="#0076ff"/>
<rect x="930.00" y="839.83" width="22.13" height="22.13" fill="#0066ff"/>
<rect x="951.83" y="839.83" width="22.13" height="22.13" fill="#0056ff"/>
<rect x="973.66" y="839.83" width="22.13" height="22.13" fill="#0046ff"/>
<rect x="995.49" y="839.83" width="22.13" height="22.13" fill="#0036ff"/>
<rect x="1017.32" y="839.83" width="22.13" height="22.13" fill="#0026ff"/>
<rect x="1039.15" y="839.83" width="196.77" height="22.13" fill="#0016ff"/>
<rect x="1235.62" y="839.83" width="371.41" height="22.13" fill="#0026ff"/>
<rect x="253.27" y="861.66" width="87.62" height="22.13" fill="#02e6f6"/>
<rect x="340.59" y="861.66" width="109.45" height="22.13" fill="#00d6ff"/>
<rect x="449.74" y="861.66" width="109.45" height="22.13" fill="#00c6ff"/>
<rect x="558.89" y="861.66" width="65.79" height="22.13" fill="#00b6ff"/>
<rect x="624.38" y="861.66" width="109.45" height="22.13" fill="#00a6ff"/>
<rect x="733.53" y="861.66" width="43.96" height="22.13" fill="#0096ff"/>
<rect x="777.19" y="861.66" width="65.79" height="22.13" fill="#0086ff"/>
<rect x="842.68" y="861.66" width="65.79" height="22.13" fill="#0076ff"/>
<rect x="908.17" y="861.66" width="22.13" height="22.13" fill="#0066ff"/>
<rect x="930.00" y="861.66" width="22.13" height="22.13" fill="#0056ff"/>
<rect x="951.83" y="861.66" width="22.13" height="22.13" fill="#0046ff"/>
<rect x="973.66" y="861.66" width="22.13" height="22.13" fill="#0036ff"/>
<rect x="995.49" y="861.66" width="22.13" height="22.13" fill="#0016ff"/>
<rect x="1017.32" y="861.66" width="43.96" height="22.13" fill="#0002f8"/>
<rect x="1060.98" y="861.66" width="174.94" height="22.13" fill="#0016ff"/>
<rect x="1235.62" y="861.66" width="371.41" height="22.13" fill="#0026ff"/>
<rect x="253.27" y="883.49" width="43.96" height="22.13" fill="#02e6f6"/>
<rect x="296.93" y="883.49" width="87.62" height="22.13" fill="#00d6ff"/>
<rect x="384.25" y="883.49" width="153.11" height="22.13" fill="#00c6ff"/>
<rect x="537.06" y="883.49" width="65.79" height="22.13" fill="#00b6ff"/>
<rect x="602.55" y="883.49" width="109.45" height="22.13" fill="#00a6ff"/>
<rect x="711.70" y="883.49" width="43.96" height="22.13" fill="#0096ff"/>
<rect x="755.36" y="883.49" width="43.96" height="22.13" fill="#0086ff"/>
<rect x="799.02" y="883.49" width="65.79" height="22.13" fill="#0076ff"/>
<rect x="864.51" y="883.49" width="43.96" height="22.13" fill="#0066ff"/>
<rect x="908.17" y="883.49" width="22.13" height="22.13" fill="#0056ff"/>
<rect x="930.00" y="883.49" width="22.13" height="22.13" fill="#0046ff"/>
<rect x="951.83" y="883.49" width="22.13" height="22.13" fill="#0036ff"/>
<rect x="973.66" y="883.49" width="22.13" height="22.13" fill="#0026ff"/>
<rect x="995.49" y="883.49" width="65.79" height="22.13" fill="#0002f8"/>
<rect x="1060.98" y="883.49" width="174.94" height="22.13" fill="#0016ff"/>
<rect x="1235.62" y="883.49" width="371.41" height="22.13" fill="#0026ff"/>
<rect x="253.27" y="905.32" width="109.45" height="22.13" fill="#00d6ff"/>
<rect x="362.42" y="905.32" width="65.79" height="22.13" fill="#00c6ff"/>
<rect x="427.91" y="905.32" width="153.11" height="22.13" fill="#00b6ff"/>
<rect x="580.72" y="905.32" width="43.96" height="22.13" fill="#00a6ff"/>
<rect x="624.38" y="905.32" width="109.45" height="22.13" fill="#0096ff"/>
<rect x="733.53" y="905.32" width="22.13" height="22.13" fill="#0086ff"/>
<rect x="755.36" y="905.32" width="87.62" height="22.13" fill="#0076ff"/>
<rect x="842.68" y="905.32" width="43.96" height="22.13" fill="#0066ff"/>
<rect x="886.34" y="905.32" width="22.13" height="22.13" fill="#0056ff"/>
<rect x="908.17" y="905.32" width="22.13" height="22.13" fill="#0046ff"/>
<rect x="930.00" y="905.32" width="22.13" height="22.13" fill="#0036ff"/>
<rect x="951.83" y="905.32" width="22.13" height="22.13" fill="#0026ff"/>
<rect x="973.66" y="905.32" width="22.13" height="22.13" fill="#0016ff"/>
<rect x="995.49" y="905.32" width="65.79" height="22.13" fill="#0002f8"/>
<rect x="1060.98" y="905.32" width="174.94" height="22.13" fill="#0016ff"/>
<rect x="1235.62" y="905.32" width="371.41" height="22.13" fill="#0026ff"/>
<rect x="253.27" y="927.15" width="65.79" height="22.13" fill="#00d6ff"/>
<rect x="318.76" y="927.15" width="65.79" height="22.13" fill="#00c6ff"/>
<rect x="384.25" y="927.15" width="174.94" height="22.13" fill="#00b6ff"/>
<rect x="558.89" y="927.15" width="43.96" height="22.13" fill="#00a6ff"/>
<rect x="602.55" y="927.15" width="43.96" height="22.13" fill="#0096ff"/>
<rect x="646.21" y="927.15" width="87.62" height="22.13" fill="#0086ff"/>
<rect x="733.53" y="927.15" width="65.79" height="22.13" fill="#0076ff"/>
<rect x="799.02" y="927.15" width="43.96" height="22.13" fill="#0066ff"/>
<rect x="842.68" y="927.15" width="43.96" height="22.13" fill="#0056ff"/>
<rect x="886.34" y="927.15" width="22.13" height="22.13" fill="#0046ff"/>
<rect x="908.17" y="927.15" width="22.13" height="22.13" fill="#0036ff"/>
<rect x="930.00" y="927.15" width="22.13" height="22.13" fill="#0026ff"/>
<rect x="951.83" y="927.15" width="22.13" height="22.13" fill="#0016ff"/>
<rect x="973.66" y="927.15" width="87.62" height="22.13" fill="#0002f8"/>
<rect x="1060.98" y="927.15" width="174.94" height="22.13" fill="#0016ff"/>
<rect x="1235.62" y="927.15" width="371.41" height="22.13" fill="#0026ff"/>
<rect x="253.27" y="948.98" width="109.45" height="22.13" fill="#00c6ff"/>
<rect x="362.42" y="948.98" width="65.79" height="22.13" fill="#00b6ff"/>
<rect x="427.91" y="948.98" width="153.11" height="22.13" fill="#00a6ff"/>
<rect x="580.72" y="948.98" width="43.96" height="22.13" fill="#0096ff"/>
<rect x="624.38" y="948.98" width="22.13" height="22.13" fill="#0086ff"/>
<rect x="646.21" y="948.98" width="131.28" height="22.13" fill="#0076ff"/>
<rect x="777.19" y="948.98" width="43.96" height="22.13" fill="#0066ff"/>
<rect x="820.85" y="948.98" width="43.96" height="22.13" fill="#0056ff"/>
<rect x="864.51" y="948.98" width="22.13" height="22.13" fill="#0046ff"/>
<rect x="886.34" y="948.98" width="22.13" height="22.13" fill="#0036ff"/>
<rect x="908.17" y="948.98" width="22.13" height="22.13" fill="#0026ff"/>
<rect x="930.00" y="948.98" width="22.13" height="22.13" fill="#0016ff"/>
<rect x="951.83" y="948.98" width="109.45" height="22.13" fill="#0002f8"/>
<rect x="1060.98" y="948.98" width="174.94" height="22.13" fill="#0016ff"/>
<rect x="1235.62" y="948.98" width="371.41" height="22.13" fill="#0026ff"/>
<rect x="253.27" y="970.81" width="87.62" height="22.13" fill="#00c6ff"/>
<rect x="340.59" y="970.81" width="65.79" height="22.13" fill="#00b6ff"/>
<rect x="406.08" y="970.81" width="43.96" height="22.13" fill="#00a6ff"/>
<rect x="449.74" y="970.81" width="65.79" height="22.13" fill="#0096ff"/>
<rect x="515.23" y="970.81" width="65.79" height="22.13" fill="#00a6ff"/>
<rect x="580.72" y="970.81" width="43.96" height="22.13" fill="#0096ff"/>
<rect x="624.38" y="970.81" width="22.13" height="22.13" fill="#0086ff"/>
<rect x="646.21" y="970.81" width="109.45" height="22.13" fill="#0076ff"/>
<rect x="755.36" y="970.81" width="43.96" height="22.13" fill="#0066ff"/>
<rect x="799.02" y="970.81" width="43.96" height="22.13" fill="#0056ff"/>
<rect x="842.68" y="970.81" width="22.13" height="22.13" fill="#0046ff"/>
<rect x="864.51" y="970.81" width="22.13" height="22.13" fill="#0036ff"/>
<rect x="886.34" y="970.81" width="22.13" height="22.13" fill="#0026ff"/>
<rect x="908.17" y="970.81" width="22.13" height="22.13" fill="#0016ff"/>
<rect x="930.00" y="970.81" width="131.28" height="22.13" fill="#0002f8"/>
<rect x="1060.98" y="970.81" width="174.94" height="22.13" fill="#0016ff"/>
<rect x="1235.62" y="970.81" width="371.41" height="22.13" fill="#0026ff"/>
<rect x="253.27" y="992.64" width="131.28" height="22.13" fill="#00b6ff"/>
<rect x="384.25" y="992.64" width="43.96" height="22.13" fill="#00a6ff"/>
<rect x="427.91" y="992.64" width="43.96" height="22.13" fill="#0096ff"/>
<rect x="471.57" y="992.64" width="22.13" height="22.13" fill="#0086ff"/>
<rect x="493.40" y="992.64" width="109.45" height="22.13" fill="#0096ff"/>
<rect x="602.55" y="992.64" width="22.13" height="22.13" fill="#0086ff"/>
<rect x="624.38" y="992.64" width="65.79" height="22.13" fill="#0076ff"/>
<rect x="689.87" y="992.64" width="87.62" height="22.13" fill="#0066ff"/>
<rect x="777.19" y="992.64" width="43.96" height="22.13" fill="#0056ff"/>
<rect x="820.85" y="992.64" width="43.96" height="22.13" fill="#0046ff"/>
<rect x="864.51" y="992.64" width="22.13" height="22.13" fill="#0036ff"/>
<rect x="886.34" y="992.64" width="22.13" height="22.13" fill="#0026ff"/>
<rect x="908.17" y="992.64" width="22.13" height="22.13" fill="#0016ff"/>
<rect x="930.00" y="992.64" width="131.28" height="22.13" fill="#0002f8"/>
<rect x="1060.98" y="992.64" width="174.94" height="22.13" fill="#0016ff"/>
<rect x="1235.62" y="992.64" width="371.41" height="22.13" fill="#0026ff"/>
<rect x="253.27" y="1014.47" width="87.62" height="22.13" fill="#00b6ff"/>
<rect x="340.59" y="1014.47" width="65.79" height="22.13" fill="#00a6ff"/>
<rect x="406.08" y="1014.47" width="43.96" height="22.13" fill="#0096ff"/>
<rect x="449.74" y="1014.47" width="22.13" height="22.13" fill="#0086ff"/>
<rect x="471.57" y="1014.47" width="22.13" height="22.13" fill="#0076ff"/>
<rect x="493.40" y="1014.47" width="43.96" height="22.13" fill="#0086ff"/>
<rect x="537.06" y="1014.47" width="65.79" height="22.13" fill="#0096ff"/>
<rect x="602.55" y="1014.47" width="22.13" height="22.13" fill="#0086ff"/>
<rect x="624.38" y="1014.47" width="43.96" height="22.13" fill="#0076ff"/>
<rect x="668.04" y="1014.47" width="43.96" height="22.13" fill="#0066ff"/>
<rect x="711.70" y="1014.47" width="65.79" height="22.13" fill="#0056ff"/>
<rect x="777.19" y="1014.47" width="65.79" height="22.13" fill="#0046ff"/>
<rect x="842.68" y="1014.47" width="43.96" height="22.13" fill="#0036ff"/>
<rect x="886.34" y="1014.47" width="22.13" height="22.13" fill="#0026ff"/>
<rect x="908.17" y="1014.47" width="22.13" height="22.13" fill="#0016ff"/>
<rect x="930.00" y="1014.47" width="131.28" height="22.13" fill="#0002f8"/>
<rect x="1060.98" y="1014.47" width="174.94" height="22.13" fill="#0016ff"/>
<rect x="1235.62" y="1014.47" width="371.41" height="22.13" fill="#0026ff"/>
<rect x="253.27" y="1036.30" width="131.28" height="22.13" fill="#00a6ff"/>
<rect x="384.25" y="1036.30" width="43.96" height="22.13" fill="#0096ff"/>
<rect x="427.91" y="1036.30" width="22.13" height="22.13" fill="#0086ff"/>
<rect x="449.74" y="1036.30" width="65.79" height="22.13" fill="#0076ff"/>
<rect x="515.23" y="1036.30" width="109.45" height="22.13" fill="#0086ff"/>
<rect x="624.38" y="1036.30" width="22.13" height="22.13" fill="#0076ff"/>
<rect x="646.21" y="1036.30" width="43.96" height="22.13" fill="#0066ff"/>
<rect x="689.87" y="1036.30" width="43.96" height="22.13" fill="#0056ff"/>
<rect x="733.53" y="1036.30" width="43.96" height="22.13" fill="#0046ff"/>
<rect x="777.19" y="1036.30" width="65.79" height="22.13" fill="#0036ff"/>
<rect x="842.68" y="1036.30" width="43.96" height="22.13" fill="#0026ff"/>
<rect x="886.34" y="1036.30" width="22.13" height="22.13" fill="#0016ff"/>
<rect x="908.17" y="1036.30" width="153.11" height="22.13" fill="#0002f8"/>
<rect x="1060.98" y="1036.30" width="174.94" height="22.13" fill="#0016ff"/>
<rect x="1235.62" y="1036.30" width="371.41" height="22.13" fill="#0026ff"/>
<rect x="253.27" y="1058.13" width="87.62" height="22.13" fill="#00a6ff"/>
<rect x="340.59" y="1058.13" width="65.79" height="22.13" fill="#0096ff"/>
<rect x="406.08" y="1058.13" width="22.13" height="22.13" fill="#0086ff"/>
<rect x="427.91" y="1058.13" width="109.45" height="22.13" fill="#0076ff"/>
<rect x="537.06" y="1058.13" width="22.13" height="22.13" fill="#0086ff"/>
<rect x="558.89" y="1058.13" width="87.62" height="22.13" fill="#0076ff"/>
<rect x="646.21" y="1058.13" width="22.13" height="22.13" fill="#0066ff"/>
<rect x="668.04" y="1058.13" width="22.13" height="22.13" fill="#0056ff"/>
<rect x="689.87" y="1058.13" width="43.96" height="22.13" fill="#0046ff"/>
<rect x="733.53" y="1058.13" width="22.13" height="22.13" fill="#0036ff"/>
<rect x="755.36" y="1058.13" width="22.13" height="22.13" fill="#000090"/>
<rect x="777.19" y="1058.13" width="65.79" height="22.13" fill="#0026ff"/>
<rect x="842.68" y="1058.13" width="65.79" height="22.13" fill="#0016ff"/>
<rect x="908.17" y="1058.13" width="153.11" height="22.13" fill="#0002f8"/>
<rect x="1060.98" y="1058.13" width="174.94" height="22.13" fill="#0016ff"/>
<rect x="1235.62" y="1058.13" width="371.41" height="22.13" fill="#0026ff"/>
<rect x="253.27" y="1079.96" width="43.96" height="22.13" fill="#0096ff"/>
<rect x="296.93" y="1079.96" width="22.13" height="22.13" fill="#00a6ff"/>
<rect x="318.76" y="1079.96" width="43.96" height="22.13" fill="#0096ff"/>
<rect x="362.42" y="1079.96" width="43.96" height="22.13" fill="#0086ff"/>
<rect x="406.08" y="1079.96" width="65.79" height="22.13" fill="#0076ff"/>
<rect x="471.57" y="1079.96" width="22.13" height="22.13" fill="#0066ff"/>
<rect x="493.40" y="1079.96" width="87.62" height="22.13" fill="#0076ff"/>
<rect x="580.72" y="1079.96" width="65.79" height="22.13" fill="#0066ff"/>
<rect x="646.21" y="1079.96" width="22.13" height="22.13" fill="#0056ff"/>
<rect x="668.04" y="1079.96" width="22.13" height="22.13" fill="#0046ff"/>
<rect x="689.87" y="1079.96" width="22.13" height="22.13" fill="#0036ff"/>
<rect x="711.70" y="1079.96" width="22.13" height="22.13" fill="#000090"/>
<rect x="733.53" y="1079.96" width="43.96" height="22.13" fill="#0026ff"/>
<rect x="777.19" y="1079.96" width="65.79" height="22.13" fill="#0016ff"/>
<rect x="842.68" y="1079.96" width="218.60" height="22.13" fill="#0002f8"/>
<rect x="1060.98" y="1079.96" width="174.94" height="22.13" fill="#0016ff"/>
<rect x="1235.62" y="1079.96" width="371.41" height="22.13" fill="#0026ff"/>
<rect x="253.27" y="1101.79" width="87.62" height="22.13" fill="#0096ff"/>
<rect x="340.59" y="1101.79" width="43.96" height="22.13" fill="#0086ff"/>
<rect x="384.25" y="1101.79" width="65.79" height="22.13" fill="#0076ff"/>
<rect x="449.74" y="1101.79" width="131.28" height="22.13" fill="#0066ff"/>
<rect x="580.72" y="1101.79" width="65.79" height="22.13" fill="#0056ff"/>
<rect x="646.21" y="1101.79" width="22.13" height="22.13" fill="#0046ff"/>
<rect x="668.04" y="1101.79" width="22.13" height="22.13" fill="#000090"/>
<rect x="689.87" y="1101.79" width="22.13" height="22.13" fill="#0026ff"/>
<rect x="711.70" y="1101.79" width="65.79" height="22.13" fill="#0016ff"/>
<rect x="777.19" y="1101.79" width="284.09" height="22.13" fill="#0002f8"/>
<rect x="1060.98" y="1101.79" width="174.94" height="22.13" fill="#0016ff"/>
<rect x="1235.62" y="1101.79" width="371.41" height="22.13" fill="#0026ff"/>
<rect x="253.27" y="1123.62" width="43.96" height="22.13" fill="#0086ff"/>
<rect x="296.93" y="1123.62" width="43.96" height="22.13" fill="#0096ff"/>
<rect x="340.59" y="1123.62" width="22.13" height="22.13" fill="#0086ff"/>
<rect x="362.42" y="1123.62" width="65.79" height="22.13" fill="#0076ff"/>
<rect x="427.91" y="1123.62" width="65.79" height="22.13" fill="#0066ff"/>
<rect x="493.40" y="1123.62" width="87.62" height="22.13" fill="#0056ff"/>
<rect x="580.72" y="1123.62" width="43.96" height="22.13" fill="#0046ff"/>
<rect x="624.38" y="1123.62" width="22.13" height="22.13" fill="#0036ff"/>
<rect x="646.21" y="1123.62" width="22.13" height="22.13" fill="#000090"/>
<rect x="668.04" y="1123.62" width="43.96" height="22.13" fill="#0016ff"/>
<rect x="711.70" y="1123.62" width="349.58" height="22.13" fill="#0002f8"/>
<rect x="1060.98" y="1123.62" width="174.94" height="22.13" fill="#0016ff"/>
<rect x="1235.62" y="1123.62" width="371.41" height="22.13" fill="#0026ff"/>
<rect x="253.27" y="1145.45" width="22.13" height="22.13" fill="#0076ff"/>
<rect x="275.10" y="1145.45" width="22.13" height="22.13" fill="#0086ff"/>
<rect x="296.93" y="1145.45" width="43.96" height="22.13" fill="#0096ff"/>
<rect x="340.59" y="1145.45" width="22.13" height="22.13" fill="#0086ff"/>
<rect x="362.42" y="1145.45" width="43.96" height="22.13" fill="#0076ff"/>
<rect x="406.08" y="1145.45" width="43.96" height="22.13" fill="#0066ff"/>
<rect x="449.74" y="1145.45" width="65.79" height="22.13" fill="#0056ff"/>
<rect x="515.23" y="1145.45" width="43.96" height="22.13" fill="#0046ff"/>
<rect x="558.89" y="1145.45" width="43.96" height="22.13" fill="#0036ff"/>
<rect x="602.55" y="1145.45" width="22.13" height="22.13" fill="#000090"/>
<rect x="624.38" y="1145.45" width="22.13" height="22.13" fill="#0026ff"/>
<rect x="646.21" y="1145.45" width="22.13" height="22.13" fill="#0016ff"/>
<rect x="668.04" y="1145.45" width="393.24" height="22.13" fill="#0002f8"/>
<rect x="1060.98" y="1145.45" width="174.94" height="22.13" fill="#0016ff"/>
<rect x="1235.62" y="1145.45" width="371.41" height="22.13" fill="#0026ff"/>
<rect x="253.27" y="1167.28" width="22.13" height="22.13" fill="#0076ff"/>
<rect x="275.10" y="1167.28" width="65.79" height="22.13" fill="#0086ff"/>
<rect x="340.59" y="1167.28" width="43.96" height="22.13" fill="#0076ff"/>
<rect x="384.25" y="1167.28" width="43.96" height="22.13" fill="#0066ff"/>
<rect x="427.91" y="1167.28" width="43.96" height="22.13" fill="#0056ff"/>
<rect x="471.57" y="1167.28" width="43.96" height="22.13" fill="#0046ff"/>
<rect x="515.23" y="1167.28" width="22.13" height="22.13" fill="#0036ff"/>
<rect x="537.06" y="1167.28" width="22.13" height="22.13" fill="#000090"/>
<rect x="558.89" y="1167.28" width="22.13" height="22.13" fill="#0026ff"/>
<rect x="580.72" y="1167.28" width="65.79" height="22.13" fill="#0016ff"/>
<rect x="646.21" y="1167.28" width="415.07" height="22.13" fill="#0002f8"/>
<rect x="1060.98" y="1167.28" width="174.94" height="22.13" fill="#0016ff"/>
<rect x="1235.62" y="1167.28" width="371.41" height="22.13" fill="#0026ff"/>
<rect x="253.27" y="1189.11" width="65.79" height="22.13" fill="#0076ff"/>
<rect x="318.76" y="1189.11" width="22.13" height="22.13" fill="#0086ff"/>
<rect x="340.59" y="1189.11" width="43.96" height="22.13" fill="#0076ff"/>
<rect x="384.25" y="1189.11" width="22.13" height="22.13" fill="#0066ff"/>
<rect x="406.08" y="1189.11" width="22.13" height="22.13" fill="#0056ff"/>
<rect x="427.91" y="1189.11" width="43.96" height="22.13" fill="#0046ff"/>
<rect x="471.57" y="1189.11" width="43.96" height="22.13" fill="#0036ff"/>
<rect x="515.23" y="1189.11" width="22.13" height="22.13" fill="#0026ff"/>
<rect x="537.06" y="1189.11" width="43.96" height="22.13" fill="#0016ff"/>
<rect x="580.72" y="1189.11" width="480.56" height="22.13" fill="#0002f8"/>
<rect x="1060.98" y="1189.11" width="174.94" height="22.13" fill="#0016ff"/>
<rect x="1235.62" y="1189.11" width="371.41" height="22.13" fill="#0026ff"/>
<rect x="253.27" y="1210.94" width="109.45" height="22.13" fill="#0076ff"/>
<rect x="362.42" y="1210.94" width="22.13" height="22.13" fill="#0066ff"/>
<rect x="384.25" y="1210.94" width="43.96" height="22.13" fill="#0056ff"/>
<rect x="427.91" y="1210.94" width="22.13" height="22.13" fill="#0046ff"/>
<rect x="449.74" y="1210.94" width="22.13" height="22.13" fill="#0036ff"/>
<rect x="471.57" y="1210.94" width="22.13" height="22.13" fill="#000090"/>
<rect x="493.40" y="1210.94" width="22.13" height="22.13" fill="#0026ff"/>
<rect x="515.23" y="1210.94" width="22.13" height="22.13" fill="#0016ff"/>
<rect x="537.06" y="1210.94" width="524.22" height="22.13" fill="#0002f8"/>
<rect x="1060.98" y="1210.94" width="174.94" height="22.13" fill="#0016ff"/>
<rect x="1235.62" y="1210.94" width="371.41" height="22.13" fill="#0026ff"/>
<rect x="253.27" y="1232.77" width="43.96" height="22.13" fill="#0066ff"/>
<rect x="296.93" y="1232.77" width="43.96" height="22.13" fill="#0076ff"/>
<rect x="340.59" y="1232.77" width="22.13" height="22.13" fill="#0066ff"/>
<rect x="362.42" y="1232.77" width="43.96" height="22.13" fill="#0056ff"/>
<rect x="406.08" y="1232.77" width="22.13" height="22.13" fill="#0046ff"/>
<rect x="427.91" y="1232.77" width="22.13" height="22.13" fill="#0036ff"/>
<rect x="449.74" y="1232.77" width="22.13" height="22.13" fill="#0026ff"/>
<rect x="471.57" y="1232.77" width="43.96" height="22.13" fill="#0016ff"/>
<rect x="515.23" y="1232.77" width="546.05" height="22.13" fill="#0002f8"/>
<rect x="1060.98" y="1232.77" width="174.94" height="22.13" fill="#0016ff"/>
<rect x="1235.62" y="1232.77" width="371.41" height="22.13" fill="#0026ff"/>
<rect x="253.27" y="1254.60" width="87.62" height="22.13" fill="#0066ff"/>
<rect x="340.59" y="1254.60" width="43.96" height="22.13" fill="#0056ff"/>
<rect x="384.25" y="1254.60" width="22.13" height="22.13" fill="#0046ff"/>
<rect x="406.08" y="1254.60" width="22.13" height="22.13" fill="#0036ff"/>
<rect x="427.91" y="1254.60" width="22.13" height="22.13" fill="#0026ff"/>
<rect x="449.74" y="1254.60" width="22.13" height="22.13" fill="#0016ff"/>
<rect x="471.57" y="1254.60" width="589.71" height="22.13" fill="#0002f8"/>
<rect x="1060.98" y="1254.60" width="174.94" height="22.13" fill="#0016ff"/>
<rect x="1235.62" y="1254.60" width="371.41" height="22.13" fill="#0026ff"/>
<rect x="253.27" y="1276.43" width="87.62" height="22.13" fill="#0056ff"/>
<rect x="340.59" y="1276.43" width="43.96" height="22.13" fill="#0046ff"/>
<rect x="384.25" y="1276.43" width="22.13" height="22.13" fill="#0036ff"/>
<rect x="406.08" y="1276.43" width="22.13" height="22.13" fill="#0026ff"/>
<rect x="427.91" y="1276.43" width="22.13" height="22.13" fill="#0016ff"/>
<rect x="449.74" y="1276.43" width="611.54" height="22.13" fill="#0002f8"/>
<rect x="1060.98" y="1276.43" width="174.94" height="22.13" fill="#0016ff"/>
<rect x="1235.62" y="1276.43" width="371.41" height="22.13" fill="#0026ff"/>
<rect x="253.27" y="1298.26" width="65.79" height="22.13" fill="#0056ff"/>
<rect x="318.76" y="1298.26" width="43.96" height="22.13" fill="#0046ff"/>
<rect x="362.42" y="1298.26" width="22.13" height="22.13" fill="#0036ff"/>
<rect x="384.25" y="1298.26" width="22.13" height="22.13" fill="#0026ff"/>
<rect x="406.08" y="1298.26" width="22.13" height="22.13" fill="#0016ff"/>
<rect x="427.91" y="1298.26" width="633.37" height="22.13" fill="#0002f8"/>
<rect x="1060.98" y="1298.26" width="174.94" height="22.13" fill="#0016ff"/>
<rect x="1235.62" y="1298.26" width="371.41" height="22.13" fill="#0026ff"/>
<rect x="253.27" y="1320.09" width="65.79" height="22.13" fill="#0046ff"/>
<rect x="318.76" y="1320.09" width="43.96" height="22.13" fill="#0036ff"/>
<rect x="362.42" y="1320.09" width="22.13" height="22.13" fill="#0026ff"/>
<rect x="384.25" y="1320.09" width="22.13" height="22.13" fill="#0016ff"/>
<rect x="406.08" y="1320.09" width="655.20" height="22.13" fill="#0002f8"/>
<rect x="1060.98" y="1320.09" width="174.94" height="22.13" fill="#0016ff"/>
<rect x="1235.62" y="1320.09" width="371.41" height="22.13" fill="#0026ff"/>
<rect x="253.27" y="1341.92" width="43.96" height="22.13" fill="#0046ff"/>
<rect x="296.93" y="1341.92" width="43.96" height="22.13" fill="#0036ff"/>
<rect x="340.59" y="1341.92" width="22.13" height="22.13" fill="#0026ff"/>
<rect x="362.42" y="1341.92" width="22.13" height="22.13" fill="#0016ff"/>
<rect x="384.25" y="1341.92" width="677.03" height="22.13" fill="#0002f8"/>
<rect x="1060.98" y="1341.92" width="174.94" height="22.13" fill="#0016ff"/>
<rect x="1235.62" y="1341.92" width="371.41" height="22.13" fill="#0026ff"/>
<rect x="253.27" y="1363.75" width="65.79" height="22.13" fill="#0036ff"/>
<rect x="318.76" y="1363.75" width="22.13" height="22.13" fill="#0026ff"/>
<rect x="340.59" y="1363.75" width="22.13" height="22.13" fill="#0016ff"/>
<rect x="362.42" y="1363.75" width="698.86" height="22.13" fill="#0002f8"/>
<rect x="1060.98" y="1363.75" width="174.94" height="22.13" fill="#0016ff"/>
<rect x="1235.62" y="1363.75" width="371.41" height="22.13" fill="#0026ff"/>
<rect x="253.27" y="1385.58" width="22.13" height="22.13" fill="#0036ff"/>
<rect x="275.10" y="1385.58" width="43.96" height="22.13" fill="#0026ff"/>
<rect x="318.76" y="1385.58" width="22.13" height="22.13" fill="#0016ff"/>
<rect x="340.59" y="1385.58" width="720.69" height="22.13" fill="#0002f8"/>
<rect x="1060.98" y="1385.58" width="174.94" height="22.13" fill="#0016ff"/>
<rect x="1235.62" y="1385.58" width="371.41" height="22.13" fill="#0026ff"/>
</g>
<g clip-path="url(#mapclip)">
<polygon points="295.7,1397.4 313.6,1380.5 334.7,1359.4 357.4,1335.1 380.1,1314.0 396.4,1294.5 406.1,1279.9 422.3,1263.6 441.8,1247.4 461.3,1227.9 477.5,1214.9 500.3,1203.6 523.0,1189.9 549.0,1176.0 565.9,1165.0 595.5,1158.2 622.7,1149.1 643.2,1142.3 654.5,1133.2 661.4,1125.2 679.5,1112.3 700.0,1101.4 711.4,1092.3 734.1,1082.0 754.5,1071.8 777.3,1062.7 801.3,1051.5 816.9,1043.8 830.5,1040.5 848.1,1033.1 865.6,1019.5 879.2,998.1 878.3,992.2 887.0,974.7 892.9,966.9 908.5,949.4 929.9,927.9 951.3,906.5 966.9,890.9 974.7,877.3 978.6,865.6 990.5,852.0 1006.8,839.0 1016.5,834.1 1052.2,814.6 1068.4,801.6 1091.2,785.4 1100.0,778.6 1114.6,764.9 1127.6,749.4 1137.3,740.6 1153.6,728.6 1169.8,721.1 1195.8,713.0 1220.1,702.3 1239.6,695.8 1259.1,686.0 1273.7,674.0 1288.3,670.1 1311.0,665.9 1332.1,665.9 1354.9,661.7 1379.2,656.2 1389.0,651.3 1405.2,643.2 1424.7,635.1 1445.8,626.0 1473.4,627.9 1502.6,623.7 1518.8,620.5 1535.1,615.6 1548.1,609.1 1557.8,597.7 1570.8,586.4 1583.8,573.4 1597.0,563.0 1600.0,1400.0 290.0,1400.0" fill="#fff"/>
<polyline points="264.0,408.1 286.0,417.9 334.7,405.5" fill="none" stroke="#000" stroke-width="1.3" stroke-linejoin="round"/>
<polyline points="428.8,378.9 438.6,377.3 461.3,368.2 484.0,362.7 545.7,341.6 613.9,316.2 659.4,301.0 724.3,281.5 760.0,268.5 799.0,253.9 831.4,242.5 863.9,227.9 915.8,206.8 954.8,190.6 1000.3,173.4 1029.5,160.4 1045.7,152.0" fill="none" stroke="#000" stroke-width="1.3" stroke-linejoin="round"/>
<polyline points="264.0,777.3 276.2,784.4 286.0,793.5 304.8,788.6" fill="none" stroke="#000" stroke-width="1.3" stroke-linejoin="round"/>
<polyline points="399.6,756.8 425.6,741.6 471.0,720.5 484.0,713.3 516.5,697.7 526.2,694.5 568.4,678.2 591.2,663.6 636.6,630.5 665.8,614.9 699.9,601.0 717.8,588.3 743.8,577.6 760.0,569.5 794.0,550.0 808.7,541.2 831.4,531.5 854.2,526.0 876.9,515.3 919.1,508.1 941.8,490.9 961.3,478.6 984.0,469.8 1006.8,455.2 1049.0,434.7 1071.7,426.9 1094.4,416.2 1116.2,408.1 1145.5,390.9 1190.9,367.5 1246.1,342.2 1277.0,327.0 1291.6,317.2 1311.0,308.1 1343.5,283.1 1377.6,262.0 1406.8,239.3 1440.9,216.6 1466.9,200.3 1505.8,173.4 1530.2,160.4 1554.5,152.0" fill="none" stroke="#000" stroke-width="1.3" stroke-linejoin="round"/>
<polyline points="264.0,1139.0 286.0,1180.8 308.0,1197.1 329.8,1206.8 337.9,1200.3 350.9,1177.6 357.4,1156.5 373.6,1114.3 394.7,1105.2 417.5,1089.0 428.8,1075.3 438.6,1060.7 461.3,1036.4 482.4,1020.8 503.5,1031.5 519.7,1047.7 526.2,1059.7 539.2,1068.8 548.0,1071.4 570.1,1054.2 591.2,1056.5 613.9,1051.0 626.9,1025.0 635.6,994.2 657.7,952.6 678.8,953.6 700.9,957.5 722.4,950.9 744.8,927.9 766.2,907.5 783.8,899.7 809.1,884.1 854.2,865.9 898.0,839.0" fill="none" stroke="#000" stroke-width="1.3" stroke-linejoin="round"/>
<polyline points="974.9,764.3 984.7,750.6 1006.8,747.4 1027.9,739.9 1049.0,724.4 1071.7,720.5 1093.8,719.8 1114.6,700.0 1137.3,683.8 1160.1,688.6 1180.5,687.0 1189.3,675.6 1203.2,662.0 1225.0,649.0 1246.8,640.0 1268.8,645.8 1289.9,646.4 1311.7,632.8 1333.8,614.0 1355.8,602.0 1377.6,601.6 1398.7,610.1 1421.4,610.7 1443.2,583.1 1464.3,571.8 1486.4,580.8 1508.4,581.5 1530.2,580.5 1552.9,574.0 1573.4,572.4 1578.9,578.2" fill="none" stroke="#000" stroke-width="1.3" stroke-linejoin="round"/>
<polyline points="268.2,152.0 268.2,173.5 265.0,177.4" fill="none" stroke="#000" stroke-width="1.3" stroke-linejoin="round"/>
<polyline points="273.1,152.0 273.1,174.0 265.0,184.5" fill="none" stroke="#000" stroke-width="1.3" stroke-linejoin="round"/>
<polyline points="278.3,152.0 278.3,174.2 265.0,191.7" fill="none" stroke="#000" stroke-width="1.3" stroke-linejoin="round"/>
<polyline points="283.2,152.0 283.2,173.5 265.0,222.9" fill="none" stroke="#000" stroke-width="1.3" stroke-linejoin="round"/>
<polyline points="1581.9,152.0 1577.0,173.5 1595.2,186.5" fill="none" stroke="#000" stroke-width="1.3" stroke-linejoin="round"/>
<polyline points="1592.0,152.0 1590.6,174.2 1595.2,177.4" fill="none" stroke="#000" stroke-width="1.3" stroke-linejoin="round"/>
<polyline points="471.6,1218.4 481.8,1208.2 504.5,1195.7 526.1,1187.3 547.7,1165.0 565.9,1165.0 597.7,1157.0" fill="none" stroke="#000" stroke-width="1.3" stroke-linejoin="round"/>
<polyline points="600.0,1156.0 613.2,1143.4 634.1,1142.7 668.2,1112.3 679.1,1100.9 700.0,1098.6 721.6,1076.4 743.2,1075.7 765.9,1054.3 786.4,1053.6" fill="none" stroke="#000" stroke-width="1.3" stroke-linejoin="round"/>
<polyline points="295.7,1397.4 313.6,1380.5 334.7,1359.4 357.4,1335.1 380.1,1314.0 396.4,1294.5 406.1,1279.9 422.3,1263.6 441.8,1247.4 461.3,1227.9 477.5,1214.9 500.3,1203.6 523.0,1189.9 549.0,1176.0 565.9,1165.0 595.5,1158.2 622.7,1149.1 643.2,1142.3 654.5,1133.2 661.4,1125.2 679.5,1112.3 700.0,1101.4 711.4,1092.3 734.1,1082.0 754.5,1071.8 777.3,1062.7 801.3,1051.5 816.9,1043.8 830.5,1040.5 848.1,1033.1 865.6,1019.5 879.2,998.1 878.3,992.2 887.0,974.7 892.9,966.9 908.5,949.4 929.9,927.9 951.3,906.5 966.9,890.9 974.7,877.3 978.6,865.6 990.5,852.0 1006.8,839.0 1016.5,834.1 1052.2,814.6 1068.4,801.6 1091.2,785.4 1100.0,778.6 1114.6,764.9 1127.6,749.4 1137.3,740.6 1153.6,728.6 1169.8,721.1 1195.8,713.0 1220.1,702.3 1239.6,695.8 1259.1,686.0 1273.7,674.0 1288.3,670.1 1311.0,665.9 1332.1,665.9 1354.9,661.7 1379.2,656.2 1389.0,651.3 1405.2,643.2 1424.7,635.1 1445.8,626.0 1473.4,627.9 1502.6,623.7 1518.8,620.5 1535.1,615.6 1548.1,609.1 1557.8,597.7 1570.8,586.4 1583.8,573.4 1597.0,563.0" fill="none" stroke="#000" stroke-width="2.8" stroke-linejoin="round"/>
</g>
<text x="381.3" y="391.0" font-size="29.89" text-anchor="middle" dominant-baseline="central" textLength="78.0" lengthAdjust="spacingAndGlyphs" transform="rotate(-12.5 381.3 391.0)">2.0 m</text>
<text x="350.3" y="768.8" font-size="29.89" text-anchor="middle" dominant-baseline="central" textLength="78.0" lengthAdjust="spacingAndGlyphs" transform="rotate(-14.5 350.3 768.8)">1.5 m</text>
<text x="938.6" y="807.6" font-size="29.89" text-anchor="middle" dominant-baseline="central" textLength="78.0" lengthAdjust="spacingAndGlyphs" transform="rotate(-37.0 938.6 807.6)">1.0 m</text>
<polygon points="439.7,174.7 426.7,185.5 430.0,187.0 414.2,193.8 423.7,179.4 424.5,183.0 437.5,172.1" fill="#000"/>
<polygon points="614.3,174.6 601.2,186.0 604.6,187.4 588.9,194.5 598.1,179.9 599.0,183.5 612.1,172.2" fill="#000"/>
<polygon points="789.7,174.6 777.0,186.1 780.5,187.4 764.9,194.8 773.8,180.1 774.8,183.6 787.5,172.2" fill="#000"/>
<polygon points="964.0,174.6 951.4,186.5 954.9,187.8 939.5,195.5 948.1,180.6 949.2,184.1 961.8,172.2" fill="#000"/>
<polygon points="1138.5,174.6 1126.1,187.0 1129.6,188.2 1114.5,196.4 1122.6,181.2 1123.8,184.7 1136.1,172.2" fill="#000"/>
<polygon points="1313.0,174.5 1301.7,187.8 1305.3,188.7 1290.9,198.1 1297.7,182.3 1299.2,185.7 1310.4,172.3" fill="#000"/>
<polygon points="1487.7,174.4 1477.0,189.2 1480.6,189.8 1466.9,200.3 1472.6,184.0 1474.3,187.3 1485.1,172.4" fill="#000"/>
<polygon points="439.8,349.2 427.5,361.5 431.0,362.6 415.8,370.8 424.0,355.6 425.1,359.1 437.4,346.8" fill="#000"/>
<polygon points="614.4,349.8 602.6,362.2 606.2,363.3 591.2,371.8 599.0,356.4 600.2,359.9 612.0,347.6" fill="#000"/>
<polygon points="789.8,349.8 777.8,362.7 781.4,363.7 766.5,372.4 774.1,357.0 775.4,360.4 787.4,347.6" fill="#000"/>
<polygon points="964.2,349.8 952.7,363.2 956.3,364.1 941.8,373.4 948.8,357.6 950.2,361.0 961.6,347.6" fill="#000"/>
<polygon points="1138.6,349.7 1128.2,363.2 1131.8,364.0 1117.8,374.0 1124.0,357.9 1125.6,361.2 1136.0,347.7" fill="#000"/>
<polygon points="1313.1,349.6 1303.9,363.3 1307.5,363.8 1294.2,374.7 1299.3,358.2 1301.1,361.5 1310.3,347.8" fill="#000"/>
<polygon points="1487.8,349.6 1478.3,363.4 1481.9,363.9 1468.5,374.7 1473.8,358.3 1475.6,361.5 1485.0,347.8" fill="#000"/>
<polygon points="439.8,524.5 429.1,536.7 432.7,537.7 418.1,546.8 425.2,531.1 426.6,534.5 437.4,522.3" fill="#000"/>
<polygon points="614.5,524.4 604.6,537.8 608.2,538.4 594.4,548.7 600.3,532.5 601.9,535.8 611.9,522.4" fill="#000"/>
<polygon points="789.9,524.4 779.8,538.4 783.4,539.0 769.7,549.4 775.4,533.1 777.1,536.4 787.3,522.4" fill="#000"/>
<polygon points="964.3,524.3 955.1,538.4 958.8,538.8 945.7,550.0 950.5,533.5 952.4,536.6 961.5,522.5" fill="#000"/>
<polygon points="1138.8,524.2 1131.9,537.6 1135.6,537.6 1123.6,550.0 1126.8,533.1 1128.9,536.0 1135.8,522.6" fill="#000"/>
<polygon points="1313.2,524.1 1306.3,539.2 1310.0,539.0 1298.7,552.0 1301.0,534.9 1303.3,537.8 1310.2,522.7" fill="#000"/>
<polygon points="1487.9,524.1 1481.4,539.0 1485.1,538.8 1474.0,552.0 1476.0,534.9 1478.4,537.7 1484.9,522.7" fill="#000"/>
<polygon points="440.0,699.3 430.8,713.7 434.5,714.1 421.4,725.3 426.1,708.7 428.0,711.9 437.2,697.5" fill="#000"/>
<polygon points="614.7,699.2 606.6,714.6 610.3,714.7 598.3,727.0 601.5,710.1 603.7,713.1 611.7,697.6" fill="#000"/>
<polygon points="790.1,699.1 783.1,715.0 786.8,714.8 775.6,727.9 777.7,710.8 780.1,713.6 787.1,697.7" fill="#000"/>
<polygon points="964.4,699.0 958.3,715.3 962.0,714.9 951.6,728.6 952.7,711.4 955.3,714.1 961.4,697.8" fill="#000"/>
<polygon points="1138.9,698.6 1136.6,715.3 1140.1,714.1 1133.0,729.8 1130.3,712.8 1133.4,714.9 1135.7,698.2" fill="#000"/>
<polygon points="440.1,873.7 433.4,889.8 437.1,889.6 426.2,902.9 428.0,885.8 430.4,888.6 437.1,872.5" fill="#000"/>
<polygon points="614.8,873.6 609.5,890.2 613.2,889.6 603.5,903.9 603.7,886.7 606.4,889.2 611.6,872.6" fill="#000"/>
<polygon points="790.2,873.4 786.8,889.7 790.4,888.8 782.1,903.9 780.7,886.7 783.6,889.0 787.0,872.8" fill="#000"/>
<polygon points="964.5,873.0 964.9,879.9 968.1,878.1 963.9,894.8 958.2,878.5 961.6,880.0 961.3,873.2" fill="#000"/>
<polygon points="440.2,1048.2 435.4,1064.2 439.0,1063.5 429.5,1077.9 429.5,1060.7 432.2,1063.2 437.0,1047.2" fill="#000"/>
<polygon points="614.8,1047.8 613.5,1063.9 616.9,1062.6 610.6,1078.6 607.1,1061.7 610.2,1063.7 611.6,1047.6" fill="#000"/>
<polygon points="790.2,1047.9 790.1,1048.6 790.8,1048.0 787.7,1055.0 786.4,1047.4 786.9,1048.2 787.0,1047.5" fill="#000"/>
<polygon points="440.2,1222.3 440.6,1234.1 443.9,1232.3 439.5,1249.0 434.0,1232.7 437.3,1234.2 437.0,1222.5" fill="#000"/>
<polygon points="648.0,597.1 651.0,606.2 660.6,606.2 652.8,611.9 655.8,621.0 648.0,615.3 640.2,621.0 643.2,611.9 635.4,606.2 645.0,606.2" fill="#fff" stroke="#000" stroke-width="2.1" stroke-linejoin="round"/>
<polygon points="787.1,1003.1 790.1,1012.2 799.7,1012.2 791.9,1017.9 794.9,1027.0 787.1,1021.3 779.3,1027.0 782.3,1017.9 774.5,1012.2 784.1,1012.2" fill="#f00" stroke="#000" stroke-width="2.1" stroke-linejoin="round"/>
<rect x="264" y="152" width="1332" height="1245" fill="none" stroke="#000" stroke-width="2.2"/>
<line x1="254" y1="409.8" x2="264" y2="409.8" stroke="#000" stroke-width="2.2"/>
<text x="183.51" y="420.90" font-size="29.89" textLength="62.08" lengthAdjust="spacingAndGlyphs" font-weight="normal" fill="#000" >11.8</text>
<line x1="254" y1="673.3" x2="264" y2="673.3" stroke="#000" stroke-width="2.2"/>
<text x="183.51" y="684.40" font-size="29.89" textLength="62.08" lengthAdjust="spacingAndGlyphs" font-weight="normal" fill="#000" >11.7</text>
<line x1="254" y1="936.8" x2="264" y2="936.8" stroke="#000" stroke-width="2.2"/>
<text x="183.51" y="947.90" font-size="29.89" textLength="62.08" lengthAdjust="spacingAndGlyphs" font-weight="normal" fill="#000" >11.6</text>
<line x1="254" y1="1200.3" x2="264" y2="1200.3" stroke="#000" stroke-width="2.2"/>
<text x="183.51" y="1211.40" font-size="29.89" textLength="62.08" lengthAdjust="spacingAndGlyphs" font-weight="normal" fill="#000" >11.5</text>
<line x1="283.0" y1="1397" x2="283.0" y2="1407" stroke="#000" stroke-width="2.2"/>
<text x="240.66" y="1438.80" font-size="29.89" textLength="84.98" lengthAdjust="spacingAndGlyphs" font-weight="normal" fill="#000" >−73.1</text>
<line x1="545.8" y1="1397" x2="545.8" y2="1407" stroke="#000" stroke-width="2.2"/>
<text x="503.41" y="1438.80" font-size="29.89" textLength="84.98" lengthAdjust="spacingAndGlyphs" font-weight="normal" fill="#000" >−73.0</text>
<line x1="808.5" y1="1397" x2="808.5" y2="1407" stroke="#000" stroke-width="2.2"/>
<text x="766.16" y="1438.80" font-size="29.89" textLength="84.98" lengthAdjust="spacingAndGlyphs" font-weight="normal" fill="#000" >−72.9</text>
<line x1="1071.2" y1="1397" x2="1071.2" y2="1407" stroke="#000" stroke-width="2.2"/>
<text x="1028.91" y="1438.80" font-size="29.89" textLength="84.98" lengthAdjust="spacingAndGlyphs" font-weight="normal" fill="#000" >−72.8</text>
<line x1="1334.0" y1="1397" x2="1334.0" y2="1407" stroke="#000" stroke-width="2.2"/>
<text x="1291.66" y="1438.80" font-size="29.89" textLength="84.98" lengthAdjust="spacingAndGlyphs" font-weight="normal" fill="#000" >−72.7</text>
<rect x="122.80" y="1563.0" width="50.84" height="80.5" fill="#00008f" shape-rendering="crispEdges"/>
<rect x="173.24" y="1563.0" width="44.54" height="80.5" fill="#0000b2" shape-rendering="crispEdges"/>
<rect x="217.38" y="1563.0" width="44.54" height="80.5" fill="#0000d1" shape-rendering="crispEdges"/>
<rect x="261.52" y="1563.0" width="88.68" height="80.5" fill="#0002f8" shape-rendering="crispEdges"/>
<rect x="349.80" y="1563.0" width="25.62" height="80.5" fill="#0016ff" shape-rendering="crispEdges"/>
<rect x="375.02" y="1563.0" width="25.62" height="80.5" fill="#0026ff" shape-rendering="crispEdges"/>
<rect x="400.24" y="1563.0" width="25.62" height="80.5" fill="#0036ff" shape-rendering="crispEdges"/>
<rect x="425.46" y="1563.0" width="25.62" height="80.5" fill="#0046ff" shape-rendering="crispEdges"/>
<rect x="450.68" y="1563.0" width="25.62" height="80.5" fill="#0056ff" shape-rendering="crispEdges"/>
<rect x="475.91" y="1563.0" width="25.62" height="80.5" fill="#0066ff" shape-rendering="crispEdges"/>
<rect x="501.13" y="1563.0" width="25.62" height="80.5" fill="#0076ff" shape-rendering="crispEdges"/>
<rect x="526.35" y="1563.0" width="25.62" height="80.5" fill="#0086ff" shape-rendering="crispEdges"/>
<rect x="551.57" y="1563.0" width="25.62" height="80.5" fill="#0096ff" shape-rendering="crispEdges"/>
<rect x="576.79" y="1563.0" width="25.62" height="80.5" fill="#00a6ff" shape-rendering="crispEdges"/>
<rect x="602.02" y="1563.0" width="25.62" height="80.5" fill="#00b6ff" shape-rendering="crispEdges"/>
<rect x="627.24" y="1563.0" width="25.62" height="80.5" fill="#00c6ff" shape-rendering="crispEdges"/>
<rect x="652.46" y="1563.0" width="25.62" height="80.5" fill="#00d6ff" shape-rendering="crispEdges"/>
<rect x="677.68" y="1563.0" width="25.62" height="80.5" fill="#02e6f6" shape-rendering="crispEdges"/>
<rect x="702.90" y="1563.0" width="31.93" height="80.5" fill="#0ff8e7" shape-rendering="crispEdges"/>
<rect x="734.43" y="1563.0" width="19.32" height="80.5" fill="#1cffdb" shape-rendering="crispEdges"/>
<rect x="753.35" y="1563.0" width="44.54" height="80.5" fill="#2cffca" shape-rendering="crispEdges"/>
<rect x="797.49" y="1563.0" width="13.01" height="80.5" fill="#3bffbc" shape-rendering="crispEdges"/>
<rect x="810.10" y="1563.0" width="50.84" height="80.5" fill="#4bffac" shape-rendering="crispEdges"/>
<rect x="860.54" y="1563.0" width="13.01" height="80.5" fill="#5bff9c" shape-rendering="crispEdges"/>
<rect x="873.15" y="1563.0" width="50.84" height="80.5" fill="#6bff8c" shape-rendering="crispEdges"/>
<rect x="923.59" y="1563.0" width="13.01" height="80.5" fill="#7bff7b" shape-rendering="crispEdges"/>
<rect x="936.21" y="1563.0" width="50.84" height="80.5" fill="#8cff6b" shape-rendering="crispEdges"/>
<rect x="986.65" y="1563.0" width="13.01" height="80.5" fill="#9cff5b" shape-rendering="crispEdges"/>
<rect x="999.26" y="1563.0" width="50.84" height="80.5" fill="#acff4b" shape-rendering="crispEdges"/>
<rect x="1049.70" y="1563.0" width="13.01" height="80.5" fill="#bcff3b" shape-rendering="crispEdges"/>
<rect x="1062.31" y="1563.0" width="44.54" height="80.5" fill="#caff2c" shape-rendering="crispEdges"/>
<rect x="1106.45" y="1563.0" width="19.32" height="80.5" fill="#dbff1c" shape-rendering="crispEdges"/>
<rect x="1125.37" y="1563.0" width="57.15" height="80.5" fill="#eefb09" shape-rendering="crispEdges"/>
<rect x="1182.12" y="1563.0" width="25.62" height="80.5" fill="#ffe800" shape-rendering="crispEdges"/>
<rect x="1207.34" y="1563.0" width="31.93" height="80.5" fill="#ffd700" shape-rendering="crispEdges"/>
<rect x="1238.87" y="1563.0" width="25.62" height="80.5" fill="#ffc600" shape-rendering="crispEdges"/>
<rect x="1264.09" y="1563.0" width="25.62" height="80.5" fill="#ffb800" shape-rendering="crispEdges"/>
<rect x="1289.31" y="1563.0" width="25.62" height="80.5" fill="#ffa900" shape-rendering="crispEdges"/>
<rect x="1314.53" y="1563.0" width="31.93" height="80.5" fill="#ff9800" shape-rendering="crispEdges"/>
<rect x="1346.06" y="1563.0" width="25.62" height="80.5" fill="#ff8700" shape-rendering="crispEdges"/>
<rect x="1371.28" y="1563.0" width="25.62" height="80.5" fill="#ff7900" shape-rendering="crispEdges"/>
<rect x="1396.50" y="1563.0" width="31.93" height="80.5" fill="#ff6800" shape-rendering="crispEdges"/>
<rect x="1428.03" y="1563.0" width="25.62" height="80.5" fill="#ff5700" shape-rendering="crispEdges"/>
<rect x="1453.25" y="1563.0" width="25.62" height="80.5" fill="#ff4800" shape-rendering="crispEdges"/>
<rect x="1478.48" y="1563.0" width="31.93" height="80.5" fill="#ff3800" shape-rendering="crispEdges"/>
<rect x="1510.00" y="1563.0" width="25.62" height="80.5" fill="#ff2700" shape-rendering="crispEdges"/>
<rect x="1535.22" y="1563.0" width="25.62" height="80.5" fill="#ff1800" shape-rendering="crispEdges"/>
<rect x="1560.45" y="1563.0" width="38.23" height="80.5" fill="#ef0600" shape-rendering="crispEdges"/>
<rect x="1598.28" y="1563.0" width="44.54" height="80.5" fill="#d10000" shape-rendering="crispEdges"/>
<rect x="1642.42" y="1563.0" width="44.54" height="80.5" fill="#b20000" shape-rendering="crispEdges"/>
<rect x="1686.56" y="1563.0" width="50.84" height="80.5" fill="#8f0000" shape-rendering="crispEdges"/>
<rect x="122.8" y="1563.0" width="1614.2" height="80.5" fill="none" stroke="#000" stroke-width="2.2"/>
<line x1="122.8" y1="1643.5" x2="122.8" y2="1653.5" stroke="#000" stroke-width="2.2"/>
<text x="100.41" y="1685.10" font-size="29.89" textLength="45.08" lengthAdjust="spacingAndGlyphs" font-weight="normal" fill="#000" >0.0</text>
<line x1="324.6" y1="1643.5" x2="324.6" y2="1653.5" stroke="#000" stroke-width="2.2"/>
<text x="302.18" y="1685.10" font-size="29.89" textLength="45.08" lengthAdjust="spacingAndGlyphs" font-weight="normal" fill="#000" >0.5</text>
<line x1="526.4" y1="1643.5" x2="526.4" y2="1653.5" stroke="#000" stroke-width="2.2"/>
<text x="503.96" y="1685.10" font-size="29.89" textLength="45.08" lengthAdjust="spacingAndGlyphs" font-weight="normal" fill="#000" >1.0</text>
<line x1="728.1" y1="1643.5" x2="728.1" y2="1653.5" stroke="#000" stroke-width="2.2"/>
<text x="705.73" y="1685.10" font-size="29.89" textLength="45.08" lengthAdjust="spacingAndGlyphs" font-weight="normal" fill="#000" >1.5</text>
<line x1="929.9" y1="1643.5" x2="929.9" y2="1653.5" stroke="#000" stroke-width="2.2"/>
<text x="907.51" y="1685.10" font-size="29.89" textLength="45.08" lengthAdjust="spacingAndGlyphs" font-weight="normal" fill="#000" >2.0</text>
<line x1="1131.7" y1="1643.5" x2="1131.7" y2="1653.5" stroke="#000" stroke-width="2.2"/>
<text x="1109.28" y="1685.10" font-size="29.89" textLength="45.08" lengthAdjust="spacingAndGlyphs" font-weight="normal" fill="#000" >2.5</text>
<line x1="1333.5" y1="1643.5" x2="1333.5" y2="1653.5" stroke="#000" stroke-width="2.2"/>
<text x="1311.06" y="1685.10" font-size="29.89" textLength="45.08" lengthAdjust="spacingAndGlyphs" font-weight="normal" fill="#000" >3.0</text>
<line x1="1535.2" y1="1643.5" x2="1535.2" y2="1653.5" stroke="#000" stroke-width="2.2"/>
<text x="1512.83" y="1685.10" font-size="29.89" textLength="45.08" lengthAdjust="spacingAndGlyphs" font-weight="normal" fill="#000" >3.5</text>
<line x1="1737.0" y1="1643.5" x2="1737.0" y2="1653.5" stroke="#000" stroke-width="2.2"/>
<text x="1714.61" y="1685.10" font-size="29.89" textLength="45.08" lengthAdjust="spacingAndGlyphs" font-weight="normal" fill="#000" >4.0</text>
<text x="770.60" y="1723.50" font-size="29.89" textLength="320.20" lengthAdjust="spacingAndGlyphs" font-weight="normal" fill="#000" >Altura Significativa (m)</text>
<rect x="106.0" y="1934.7" width="1647.0" height="125.60" fill="#fcc9ca"/>
<rect x="106.0" y="2060.30" width="1647.0" height="104.10" fill="#ffeacc"/>
<rect x="106.0" y="2164.40" width="1647.0" height="62.10" fill="#fffcc9"/>
<rect x="106.0" y="2226.50" width="1647.0" height="40.40" fill="#cde4cc"/>
<rect x="106.0" y="2058.90" width="1647.0" height="1.4" fill="#f0958a"/>
<rect x="106.0" y="2060.30" width="1647.0" height="1.4" fill="#ffab80"/>
<rect x="106.0" y="2163.00" width="1647.0" height="2.8" fill="#f5e586"/>
<rect x="106.0" y="2225.10" width="1647.0" height="1.4" fill="#f5e08a"/>
<rect x="106.0" y="2226.50" width="1647.0" height="1.4" fill="#b9dc87"/>
<polyline points="181.2,2203.2 218.6,2202.6 256.1,2201.7 293.5,2197.6 331.0,2187.9 368.4,2168.0 405.9,2160.2 443.3,2167.0 480.8,2170.5 518.2,2173.8 555.6,2177.3 593.1,2179.7 630.5,2181.8 668.0,2161.6 705.4,2157.9 742.9,2166.0 780.3,2164.7 817.8,2167.0 855.2,2173.8 892.7,2174.8 930.1,2162.0 967.5,2148.9 1005.0,2148.5 1042.4,2154.0 1079.9,2160.9 1117.3,2171.0 1154.8,2174.9 1192.2,2183.3 1229.7,2171.0 1267.1,2154.1 1304.5,2155.7 1342.0,2151.4 1379.4,2147.0 1416.9,2149.5 1454.3,2151.5 1491.8,2152.8 1529.2,2153.9 1566.7,2154.8 1604.1,2154.5 1641.6,2150.9 1679.0,2148.0" fill="none" stroke="#00f" stroke-width="4.2" stroke-linejoin="round"/>
<circle cx="181.3" cy="2203.2" r="9.6" fill="#f00"/>
<rect x="106.0" y="1934.7" width="1647.0" height="332.2" fill="none" stroke="#000" stroke-width="2.2"/>
<line x1="96.0" y1="2266.9" x2="106.0" y2="2266.9" stroke="#000" stroke-width="2.2"/>
<text x="69.41" y="2277.00" font-size="29.89" textLength="18.48" lengthAdjust="spacingAndGlyphs" font-weight="normal" fill="#000" >0</text>
<line x1="96.0" y1="2183.8" x2="106.0" y2="2183.8" stroke="#000" stroke-width="2.2"/>
<text x="69.41" y="2193.95" font-size="29.89" textLength="18.48" lengthAdjust="spacingAndGlyphs" font-weight="normal" fill="#000" >1</text>
<line x1="96.0" y1="2100.8" x2="106.0" y2="2100.8" stroke="#000" stroke-width="2.2"/>
<text x="69.41" y="2110.90" font-size="29.89" textLength="18.48" lengthAdjust="spacingAndGlyphs" font-weight="normal" fill="#000" >2</text>
<line x1="96.0" y1="2017.8" x2="106.0" y2="2017.8" stroke="#000" stroke-width="2.2"/>
<text x="69.41" y="2027.85" font-size="29.89" textLength="18.48" lengthAdjust="spacingAndGlyphs" font-weight="normal" fill="#000" >3</text>
<line x1="96.0" y1="1934.7" x2="106.0" y2="1934.7" stroke="#000" stroke-width="2.2"/>
<text x="69.41" y="1944.80" font-size="29.89" textLength="18.48" lengthAdjust="spacingAndGlyphs" font-weight="normal" fill="#000" >4</text>
<line x1="181.2" y1="2266.9" x2="181.2" y2="2276.9" stroke="#000" stroke-width="2.2"/>
<text x="100.21" y="2309.00" font-size="29.89" textLength="162.28" lengthAdjust="spacingAndGlyphs" font-weight="normal" fill="#000" >2026-04-08</text>
<line x1="480.8" y1="2266.9" x2="480.8" y2="2276.9" stroke="#000" stroke-width="2.2"/>
<text x="399.77" y="2309.00" font-size="29.89" textLength="162.28" lengthAdjust="spacingAndGlyphs" font-weight="normal" fill="#000" >2026-04-09</text>
<line x1="780.3" y1="2266.9" x2="780.3" y2="2276.9" stroke="#000" stroke-width="2.2"/>
<text x="699.33" y="2309.00" font-size="29.89" textLength="162.28" lengthAdjust="spacingAndGlyphs" font-weight="normal" fill="#000" >2026-04-10</text>
<line x1="1079.9" y1="2266.9" x2="1079.9" y2="2276.9" stroke="#000" stroke-width="2.2"/>
<text x="998.89" y="2309.00" font-size="29.89" textLength="162.28" lengthAdjust="spacingAndGlyphs" font-weight="normal" fill="#000" >2026-04-11</text>
<line x1="1379.4" y1="2266.9" x2="1379.4" y2="2276.9" stroke="#000" stroke-width="2.2"/>
<text x="1298.45" y="2309.00" font-size="29.89" textLength="162.28" lengthAdjust="spacingAndGlyphs" font-weight="normal" fill="#000" >2026-04-12</text>
<line x1="1679.0" y1="2266.9" x2="1679.0" y2="2276.9" stroke="#000" stroke-width="2.2"/>
<text x="1598.01" y="2309.00" font-size="29.89" textLength="162.28" lengthAdjust="spacingAndGlyphs" font-weight="normal" fill="#000" >2026-04-13</text>
<text x="728.60" y="1919.40" font-size="36.31" textLength="401.80" lengthAdjust="spacingAndGlyphs" font-weight="normal" fill="#000" >Riohacha (Estrella Roja)</text>
<text x="52.1" y="2103.6" font-size="29.89" text-anchor="middle" textLength="139.6" lengthAdjust="spacingAndGlyphs" transform="rotate(-90 52.1 2103.6)">Altura (m)</text>
<text x="180.41" y="2177.80" font-size="29.89" textLength="98.58" lengthAdjust="spacingAndGlyphs" font-weight="normal" fill="#000" >0.78 m</text>
<rect x="106.0" y="2389.9" width="1647.0" height="125.60" fill="#fcc9ca"/>
<rect x="106.0" y="2515.50" width="1647.0" height="104.10" fill="#ffeacc"/>
<rect x="106.0" y="2619.60" width="1647.0" height="62.10" fill="#fffcc9"/>
<rect x="106.0" y="2681.70" width="1647.0" height="40.40" fill="#cde4cc"/>
<rect x="106.0" y="2514.10" width="1647.0" height="1.4" fill="#f0958a"/>
<rect x="106.0" y="2515.50" width="1647.0" height="1.4" fill="#ffab80"/>
<rect x="106.0" y="2618.20" width="1647.0" height="2.8" fill="#f5e586"/>
<rect x="106.0" y="2680.30" width="1647.0" height="1.4" fill="#f5e08a"/>
<rect x="106.0" y="2681.70" width="1647.0" height="1.4" fill="#b9dc87"/>
<polyline points="181.2,2596.2 218.6,2595.2 256.1,2604.9 293.5,2601.6 331.0,2576.7 368.4,2518.8 405.9,2513.0 443.3,2529.0 480.8,2533.2 518.2,2544.2 555.6,2554.3 593.1,2559.6 630.5,2558.2 668.0,2504.6 705.4,2510.5 742.9,2525.1 780.3,2524.4 817.8,2530.3 855.2,2540.8 892.7,2542.3 930.1,2520.9 967.5,2501.4 1005.0,2498.1 1042.4,2503.7 1079.9,2517.4 1117.3,2532.2 1154.8,2542.0 1192.2,2563.8 1229.7,2549.2 1267.1,2527.1 1304.5,2516.0 1342.0,2506.9 1379.4,2502.5 1416.9,2504.4 1454.3,2504.0 1491.8,2505.2 1529.2,2506.1 1566.7,2506.9 1604.1,2507.6 1641.6,2503.2 1679.0,2497.7" fill="none" stroke="#00f" stroke-width="4.2" stroke-linejoin="round"/>
<circle cx="181.3" cy="2596.2" r="9.6" fill="#f00"/>
<rect x="106.0" y="2389.9" width="1647.0" height="332.2" fill="none" stroke="#000" stroke-width="2.2"/>
<line x1="96.0" y1="2722.1" x2="106.0" y2="2722.1" stroke="#000" stroke-width="2.2"/>
<text x="69.41" y="2732.20" font-size="29.89" textLength="18.48" lengthAdjust="spacingAndGlyphs" font-weight="normal" fill="#000" >0</text>
<line x1="96.0" y1="2639.1" x2="106.0" y2="2639.1" stroke="#000" stroke-width="2.2"/>
<text x="69.41" y="2649.15" font-size="29.89" textLength="18.48" lengthAdjust="spacingAndGlyphs" font-weight="normal" fill="#000" >1</text>
<line x1="96.0" y1="2556.0" x2="106.0" y2="2556.0" stroke="#000" stroke-width="2.2"/>
<text x="69.41" y="2566.10" font-size="29.89" textLength="18.48" lengthAdjust="spacingAndGlyphs" font-weight="normal" fill="#000" >2</text>
<line x1="96.0" y1="2472.9" x2="106.0" y2="2472.9" stroke="#000" stroke-width="2.2"/>
<text x="69.41" y="2483.05" font-size="29.89" textLength="18.48" lengthAdjust="spacingAndGlyphs" font-weight="normal" fill="#000" >3</text>
<line x1="96.0" y1="2389.9" x2="106.0" y2="2389.9" stroke="#000" stroke-width="2.2"/>
<text x="69.41" y="2400.00" font-size="29.89" textLength="18.48" lengthAdjust="spacingAndGlyphs" font-weight="normal" fill="#000" >4</text>
<line x1="181.2" y1="2722.1" x2="181.2" y2="2732.1" stroke="#000" stroke-width="2.2"/>
<text x="100.21" y="2764.20" font-size="29.89" textLength="162.28" lengthAdjust="spacingAndGlyphs" font-weight="normal" fill="#000" >2026-04-08</text>
<line x1="480.8" y1="2722.1" x2="480.8" y2="2732.1" stroke="#000" stroke-width="2.2"/>
<text x="399.77" y="2764.20" font-size="29.89" textLength="162.28" lengthAdjust="spacingAndGlyphs" font-weight="normal" fill="#000" >2026-04-09</text>
<line x1="780.3" y1="2722.1" x2="780.3" y2="2732.1" stroke="#000" stroke-width="2.2"/>
<text x="699.33" y="2764.20" font-size="29.89" textLength="162.28" lengthAdjust="spacingAndGlyphs" font-weight="normal" fill="#000" >2026-04-10</text>
<line x1="1079.9" y1="2722.1" x2="1079.9" y2="2732.1" stroke="#000" stroke-width="2.2"/>
<text x="998.89" y="2764.20" font-size="29.89" textLength="162.28" lengthAdjust="spacingAndGlyphs" font-weight="normal" fill="#000" >2026-04-11</text>
<line x1="1379.4" y1="2722.1" x2="1379.4" y2="2732.1" stroke="#000" stroke-width="2.2"/>
<text x="1298.45" y="2764.20" font-size="29.89" textLength="162.28" lengthAdjust="spacingAndGlyphs" font-weight="normal" fill="#000" >2026-04-12</text>
<line x1="1679.0" y1="2722.1" x2="1679.0" y2="2732.1" stroke="#000" stroke-width="2.2"/>
<text x="1598.01" y="2764.20" font-size="29.89" textLength="162.28" lengthAdjust="spacingAndGlyphs" font-weight="normal" fill="#000" >2026-04-13</text>
<text x="667.90" y="2374.60" font-size="36.31" textLength="522.50" lengthAdjust="spacingAndGlyphs" font-weight="normal" fill="#000" >Área Marítima (Estrella Blanca)</text>
<text x="52.1" y="2558.7999999999997" font-size="29.89" text-anchor="middle" textLength="139.6" lengthAdjust="spacingAndGlyphs" transform="rotate(-90 52.1 2558.7999999999997)">Altura (m)</text>
<text x="180.41" y="2570.80" font-size="29.89" textLength="98.58" lengthAdjust="spacingAndGlyphs" font-weight="normal" fill="#000" >1.52 m</text>
<defs>
<clipPath id="shieldclip"><path d="M 1369.2,1053 L 1467.5,1101 L 1467,1160 C 1466,1235 1420,1272 1369.2,1288 C 1318,1272 1272,1235 1272,1160 L 1271.5,1101 Z"/></clipPath>
<linearGradient id="gy" x1="0" y1="0" x2="1" y2="0"><stop offset="0" stop-color="#f6c21a"/><stop offset="0.45" stop-color="#fbeeb0"/><stop offset="0.7" stop-color="#f9e59a"/><stop offset="1" stop-color="#f5bf10"/></linearGradient>
<linearGradient id="gb" x1="0" y1="0" x2="1" y2="0"><stop offset="0" stop-color="#2d9ec0"/><stop offset="0.35" stop-color="#8fcde0"/><stop offset="0.7" stop-color="#2c97c0"/><stop offset="1" stop-color="#1a6fa8"/></linearGradient>
<linearGradient id="gr" x1="0" y1="0" x2="1" y2="0"><stop offset="0" stop-color="#d63a2e"/><stop offset="0.35" stop-color="#f0a080"/><stop offset="0.7" stop-color="#d83a30"/><stop offset="1" stop-color="#c41a1e"/></linearGradient>
<radialGradient id="gc" cx="0.5" cy="0.5" r="0.5"><stop offset="0" stop-color="#ffffff"/><stop offset="0.25" stop-color="#b8c4e0"/><stop offset="0.6" stop-color="#2a5a90"/><stop offset="1" stop-color="#0c2f66"/></radialGradient>
</defs>
<text x="1204.5" y="1032.5" font-size="21.6" textLength="329.5" lengthAdjust="spacingAndGlyphs" fill="#231f20">Ministerio de Defensa Nacional</text>
<path d="M 1369.2,1048.2 L 1472.3,1098.2 L 1472.5,1160 C 1471,1240 1425,1278 1369.2,1294.3 C 1313,1278 1267,1240 1266.4,1160 L 1266.6,1098.2 Z" fill="#fff" stroke="#a8a8a8" stroke-width="2.2"/>
<g clip-path="url(#shieldclip)">
<rect x="1266" y="1056.00" width="208" height="4.6" fill="url(#gy)"/>
<rect x="1266" y="1063.15" width="208" height="4.6" fill="url(#gy)"/>
<rect x="1266" y="1070.30" width="208" height="4.6" fill="url(#gy)"/>
<rect x="1266" y="1077.45" width="208" height="4.6" fill="url(#gy)"/>
<rect x="1266" y="1084.60" width="208" height="4.6" fill="url(#gy)"/>
<rect x="1266" y="1091.75" width="208" height="4.6" fill="url(#gy)"/>
<rect x="1266" y="1098.90" width="208" height="4.6" fill="url(#gy)"/>
<rect x="1266" y="1106.05" width="208" height="4.6" fill="url(#gy)"/>
<rect x="1266" y="1113.20" width="208" height="4.6" fill="url(#gy)"/>
<rect x="1266" y="1120.35" width="208" height="4.6" fill="url(#gy)"/>
<rect x="1266" y="1127.50" width="208" height="4.6" fill="url(#gy)"/>
<rect x="1266" y="1134.65" width="208" height="4.6" fill="url(#gy)"/>
<rect x="1266" y="1141.80" width="208" height="4.6" fill="url(#gy)"/>
<rect x="1266" y="1148.95" width="208" height="4.6" fill="url(#gy)"/>
<rect x="1266" y="1156.10" width="208" height="4.6" fill="url(#gy)"/>
<rect x="1266" y="1163.25" width="208" height="4.6" fill="url(#gy)"/>
<rect x="1266" y="1170.40" width="208" height="4.6" fill="url(#gy)"/>
<rect x="1266" y="1177.55" width="208" height="4.6" fill="url(#gb)"/>
<rect x="1266" y="1184.70" width="208" height="4.6" fill="url(#gb)"/>
<rect x="1266" y="1191.85" width="208" height="4.6" fill="url(#gb)"/>
<rect x="1266" y="1199.00" width="208" height="4.6" fill="url(#gb)"/>
<rect x="1266" y="1206.15" width="208" height="4.6" fill="url(#gb)"/>
<rect x="1266" y="1213.30" width="208" height="4.6" fill="url(#gb)"/>
<rect x="1266" y="1220.45" width="208" height="4.6" fill="url(#gb)"/>
<rect x="1266" y="1227.60" width="208" height="4.6" fill="url(#gb)"/>
<rect x="1266" y="1234.75" width="208" height="4.6" fill="url(#gr)"/>
<rect x="1266" y="1241.90" width="208" height="4.6" fill="url(#gr)"/>
<rect x="1266" y="1249.05" width="208" height="4.6" fill="url(#gr)"/>
<rect x="1266" y="1256.20" width="208" height="4.6" fill="url(#gr)"/>
<rect x="1266" y="1263.35" width="208" height="4.6" fill="url(#gr)"/>
<rect x="1266" y="1270.50" width="208" height="4.6" fill="url(#gr)"/>
<rect x="1266" y="1277.65" width="208" height="4.6" fill="url(#gr)"/>
<rect x="1266" y="1284.80" width="208" height="4.6" fill="url(#gr)"/>
</g>
<polygon points="1283.5,1127.9 1315.5,1127.9 1321.9,1123.9 1332.5,1102.9 1298.5,1102.9 1292.5,1112.9 1315.5,1112.9 1311.8,1119.1 1288.8,1119.1" fill="#343434"/>
<polygon points="1325.0,1127.9 1337.0,1127.9 1346.3,1112.4 1334.3,1112.4" fill="#343434"/>
<polygon points="1334.3,1110.7 1345.3,1110.7 1350.0,1102.9 1339.0,1102.9" fill="#343434"/>
<polygon points="1347.7,1110.9 1392.0,1110.9 1396.8,1102.9 1352.5,1102.9" fill="#343434"/>
<polygon points="1340.1,1127.9 1351.2,1127.9 1361.7,1110.4 1350.6,1110.4" fill="#343434"/>
<polygon points="1356.0,1127.9 1368.1,1127.9 1378.6,1110.4 1366.5,1110.4" fill="#343434"/>
<polygon points="1371.3,1127.9 1382.3,1127.9 1392.8,1110.4 1381.8,1110.4" fill="#343434"/>
<polygon points="1395.9,1111.0 1421.9,1111.0 1426.8,1102.9 1400.8,1102.9" fill="#343434"/>
<polygon points="1402.3,1127.9 1411.8,1127.9 1422.0,1110.9 1412.5,1110.9" fill="#343434"/>
<polygon points="1390.0,1127.9 1411.8,1127.9 1419.5,1115.1 1394.7,1115.1 1388.8,1124.9" fill="#343434"/>
<polygon points="1418.0,1127.9 1430.0,1127.9 1445.0,1102.9 1433.0,1102.9" fill="#343434"/>
<polygon points="1441.3,1102.9 1455.8,1102.9 1450.6,1111.8 1440.3,1111.8" fill="#343434"/>
<polygon points="1398.5,1121.1 1406.3,1121.1 1407.7,1118.8 1399.9,1118.8" fill="#f7eab0"/>
<circle cx="1370" cy="1184.5" r="42.5" fill="url(#gc)" stroke="#3a3a3a" stroke-width="7"/>
<path d="M 1298.3,1233.0 C 1304.3,1234.5 1305.8,1243.5 1323.0,1244.2 C 1340.1,1244.2 1346.1,1228.6 1348.3,1219.6 C 1350.6,1233.0 1358.0,1245.0 1368.5,1245.0 C 1379.0,1245.0 1386.4,1233.0 1388.7,1219.6 C 1390.9,1233.0 1398.4,1244.2 1408.4,1244.2 C 1418.5,1244.2 1426.0,1233.0 1428.2,1219.6 C 1430.5,1228.6 1435.7,1234.5 1441.7,1235.3" fill="none" stroke="#2b2b2b" stroke-width="5.5" stroke-linejoin="round"/>
<polygon points="1296.1,1203.2 1338.6,1186.8 1332.7,1195.0 1358.0,1194.5 1341.6,1211.4 1315.5,1211.8 1304.3,1222.6" fill="#fff" stroke="#111" stroke-width="1.2" stroke-linejoin="miter"/>
<polygon points="1332.7,1183.0 1350.6,1165.1 1337.9,1164.6 1381.2,1146.7 1387.2,1163.2 1374.5,1165.8 1358.0,1183.8" fill="#fff" stroke="#111" stroke-width="1.2" stroke-linejoin="miter"/>
<polygon points="1352.1,1203.2 1398.4,1186.8 1408.1,1184.5 1391.6,1202.4 1402.1,1203.9 1358.0,1219.6" fill="#fff" stroke="#111" stroke-width="1.2" stroke-linejoin="miter"/>
<polygon points="1379.0,1174.8 1404.3,1174.8 1398.4,1181.5 1443.9,1165.1 1432.0,1147.2 1423.8,1156.1 1386.4,1164.6" fill="#fff" stroke="#111" stroke-width="1.2" stroke-linejoin="miter"/>
<path d="M 1272.9,1239.0 C 1278.9,1264.4 1338.6,1291.3 1369.2,1324.1" fill="none" stroke="#231f20" stroke-width="6" stroke-linecap="butt"/>
<path d="M 1465.6,1239.0 C 1459.6,1264.4 1399.9,1291.3 1369.2,1324.1" fill="none" stroke="#231f20" stroke-width="6" stroke-linecap="butt"/>
<polygon points="1270.7,1227.8 1290.8,1241.7 1278.9,1243.5 1273.7,1252.5" fill="#231f20"/>
<polygon points="1467.8,1227.8 1447.7,1241.7 1459.6,1243.5 1464.8,1252.5" fill="#231f20"/>
<polygon points="1359.5,1313.7 1369.2,1327.1 1379.0,1313.7 1369.2,1321.2" fill="#231f20"/>
<text x="1183.5" y="1354.5" font-size="21.8" font-weight="bold" textLength="371.5" lengthAdjust="spacingAndGlyphs" fill="#231f20">Dirección General Marítima</text>
<text x="1184.5" y="1379.7" font-size="20.2" textLength="370.5" lengthAdjust="spacingAndGlyphs" fill="#231f20">Autoridad Marítima Colombiana</text>
</svg></body></html>
